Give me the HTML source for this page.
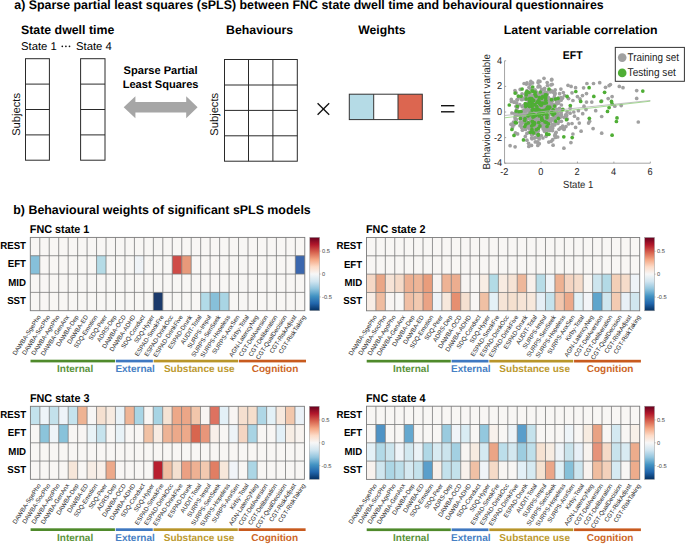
<!DOCTYPE html>
<html><head><meta charset="utf-8"><style>
html,body{margin:0;padding:0;background:#fff;}
body{width:685px;height:545px;overflow:hidden;font-family:"Liberation Sans", sans-serif;}
svg{display:block;text-rendering:geometricPrecision;}
</style></head><body>
<svg width="685" height="545" viewBox="0 0 685 545" font-family='"Liberation Sans", sans-serif'><text x="14.30" y="9.20" font-size="12.4" font-weight="bold" text-anchor="start" fill="#000" >a) Sparse partial least squares (sPLS) between FNC state dwell time and behavioural questionnaires</text>
<text x="21.00" y="33.60" font-size="12.35" font-weight="bold" text-anchor="start" fill="#000" >State dwell time</text>
<text x="21.00" y="49.90" font-size="11.3" font-weight="normal" text-anchor="start" fill="#000" >State 1</text>
<text x="76.00" y="49.90" font-size="11.3" font-weight="normal" text-anchor="start" fill="#000" >State 4</text>
<circle cx="62.3" cy="46.3" r="0.85" fill="#111"/>
<circle cx="65.9" cy="46.3" r="0.85" fill="#111"/>
<circle cx="69.5" cy="46.3" r="0.85" fill="#111"/>
<text x="160.60" y="73.90" font-size="11.1" font-weight="bold" text-anchor="middle" fill="#000" >Sparse Partial</text>
<text x="160.60" y="87.80" font-size="11.1" font-weight="bold" text-anchor="middle" fill="#000" >Least Squares</text>
<text x="259.60" y="33.80" font-size="12.3" font-weight="bold" text-anchor="middle" fill="#000" >Behaviours</text>
<text x="381.90" y="34.10" font-size="12.2" font-weight="bold" text-anchor="middle" fill="#000" >Weights</text>
<text x="580.70" y="34.40" font-size="12.3" font-weight="bold" text-anchor="middle" fill="#000" >Latent variable correlation</text>
<rect x="25.5" y="58.7" width="23.90" height="101.50" fill="none" stroke="#2a2a2a" stroke-width="1"/>
<line x1="25.5" y1="84.1" x2="49.4" y2="84.1" stroke="#2a2a2a" stroke-width="1"/>
<line x1="25.5" y1="109.5" x2="49.4" y2="109.5" stroke="#2a2a2a" stroke-width="1"/>
<line x1="25.5" y1="134.9" x2="49.4" y2="134.9" stroke="#2a2a2a" stroke-width="1"/>
<rect x="80.6" y="58.7" width="24.40" height="101.50" fill="none" stroke="#2a2a2a" stroke-width="1"/>
<line x1="80.6" y1="84.1" x2="105.0" y2="84.1" stroke="#2a2a2a" stroke-width="1"/>
<line x1="80.6" y1="109.5" x2="105.0" y2="109.5" stroke="#2a2a2a" stroke-width="1"/>
<line x1="80.6" y1="134.9" x2="105.0" y2="134.9" stroke="#2a2a2a" stroke-width="1"/>
<rect x="224.5" y="59.5" width="72.80" height="101.70" fill="none" stroke="#2a2a2a" stroke-width="1"/>
<line x1="248.5" y1="59.5" x2="248.5" y2="161.2" stroke="#2a2a2a" stroke-width="1"/>
<line x1="272.9" y1="59.5" x2="272.9" y2="161.2" stroke="#2a2a2a" stroke-width="1"/>
<line x1="224.5" y1="85.0" x2="297.3" y2="85.0" stroke="#2a2a2a" stroke-width="1"/>
<line x1="224.5" y1="110.4" x2="297.3" y2="110.4" stroke="#2a2a2a" stroke-width="1"/>
<line x1="224.5" y1="135.8" x2="297.3" y2="135.8" stroke="#2a2a2a" stroke-width="1"/>
<text transform="translate(20.1,114.4) rotate(-90)" x="0" y="0" font-size="11.2" text-anchor="middle" fill="#111">Subjects</text>
<text transform="translate(217.6,114.3) rotate(-90)" x="0" y="0" font-size="11.2" text-anchor="middle" fill="#111">Subjects</text>
<polygon points="123.7,107.2 135.4,96.2 135.4,102 186.2,102 186.2,96.2 197.6,107.2 186.2,118.2 186.2,112.6 135.4,112.6 135.4,118.2" fill="#a6a6a6"/>
<g stroke="#111" stroke-width="1.3"><line x1="317.6" y1="103.2" x2="329.2" y2="114.8"/><line x1="329.2" y1="103.2" x2="317.6" y2="114.8"/></g>
<g stroke="#111" stroke-width="1.4"><line x1="441" y1="105.7" x2="454.4" y2="105.7"/><line x1="441" y1="111.8" x2="454.4" y2="111.8"/></g>
<rect x="349.3" y="94.2" width="24.4" height="25.4" fill="#b5dbe6"/>
<rect x="373.7" y="94.2" width="24.3" height="25.4" fill="#ffffff"/>
<rect x="398" y="94.2" width="24.3" height="25.4" fill="#dc6650"/>
<rect x="349.3" y="94.2" width="73" height="25.4" fill="none" stroke="#333" stroke-width="1"/>
<line x1="373.7" y1="94.2" x2="373.7" y2="119.6" stroke="#333" stroke-width="1"/>
<line x1="398" y1="94.2" x2="398" y2="119.6" stroke="#333" stroke-width="1"/>
<line x1="504.56" y1="163.20" x2="650.32" y2="163.20" stroke="#9a9a9a" stroke-width="0.9"/>
<line x1="504.56" y1="163.20" x2="504.56" y2="60.80" stroke="#9a9a9a" stroke-width="0.9"/>
<line x1="504.56" y1="163.20" x2="504.56" y2="161.60" stroke="#9a9a9a" stroke-width="0.9"/>
<text transform="translate(504.26,175.4) scale(0.93,1)" font-size="9.9" text-anchor="middle" fill="#262626">-2</text>
<line x1="541.00" y1="163.20" x2="541.00" y2="161.60" stroke="#9a9a9a" stroke-width="0.9"/>
<text transform="translate(540.70,175.4) scale(0.93,1)" font-size="9.9" text-anchor="middle" fill="#262626">0</text>
<line x1="577.44" y1="163.20" x2="577.44" y2="161.60" stroke="#9a9a9a" stroke-width="0.9"/>
<text transform="translate(577.14,175.4) scale(0.93,1)" font-size="9.9" text-anchor="middle" fill="#262626">2</text>
<line x1="613.88" y1="163.20" x2="613.88" y2="161.60" stroke="#9a9a9a" stroke-width="0.9"/>
<text transform="translate(613.58,175.4) scale(0.93,1)" font-size="9.9" text-anchor="middle" fill="#262626">4</text>
<line x1="650.32" y1="163.20" x2="650.32" y2="161.60" stroke="#9a9a9a" stroke-width="0.9"/>
<text transform="translate(650.02,175.4) scale(0.93,1)" font-size="9.9" text-anchor="middle" fill="#262626">6</text>
<line x1="504.56" y1="163.20" x2="506.16" y2="163.20" stroke="#9a9a9a" stroke-width="0.9"/>
<text transform="translate(502.2,166.20) scale(0.93,1)" font-size="9.9" text-anchor="end" fill="#262626">-4</text>
<line x1="504.56" y1="137.60" x2="506.16" y2="137.60" stroke="#9a9a9a" stroke-width="0.9"/>
<text transform="translate(502.2,140.60) scale(0.93,1)" font-size="9.9" text-anchor="end" fill="#262626">-2</text>
<line x1="504.56" y1="112.00" x2="506.16" y2="112.00" stroke="#9a9a9a" stroke-width="0.9"/>
<text transform="translate(502.2,115.00) scale(0.93,1)" font-size="9.9" text-anchor="end" fill="#262626">0</text>
<line x1="504.56" y1="86.40" x2="506.16" y2="86.40" stroke="#9a9a9a" stroke-width="0.9"/>
<text transform="translate(502.2,89.40) scale(0.93,1)" font-size="9.9" text-anchor="end" fill="#262626">2</text>
<line x1="504.56" y1="60.80" x2="506.16" y2="60.80" stroke="#9a9a9a" stroke-width="0.9"/>
<text transform="translate(502.2,63.80) scale(0.93,1)" font-size="9.9" text-anchor="end" fill="#262626">4</text>
<text transform="translate(578.2,187.9) scale(0.93,1)" font-size="10.3" text-anchor="middle" fill="#262626">State 1</text>
<text transform="translate(489.9,111.8) rotate(-90) scale(0.95,1)" x="0" y="0" font-size="10.3" text-anchor="middle" fill="#262626">Behavioural latent variable</text>
<text transform="translate(572.7,58.6) scale(0.92,1)" font-size="11.4" font-weight="bold" text-anchor="middle" fill="#000">EFT</text>
<g fill="#a0a0a0"><circle cx="522.2" cy="106.7" r="1.85"/><circle cx="554.6" cy="119.2" r="1.85"/><circle cx="520.7" cy="112.9" r="1.85"/><circle cx="547.1" cy="96.5" r="1.85"/><circle cx="522.4" cy="130.2" r="1.85"/><circle cx="550.4" cy="105.3" r="1.85"/><circle cx="562.4" cy="98.2" r="1.85"/><circle cx="538.6" cy="115.9" r="1.85"/><circle cx="528.6" cy="128.0" r="1.85"/><circle cx="541.5" cy="110.0" r="1.85"/><circle cx="535.1" cy="112.9" r="1.85"/><circle cx="544.1" cy="102.3" r="1.85"/><circle cx="556.1" cy="109.0" r="1.85"/><circle cx="514.0" cy="102.1" r="1.85"/><circle cx="519.4" cy="114.4" r="1.85"/><circle cx="518.6" cy="112.0" r="1.85"/><circle cx="528.7" cy="109.0" r="1.85"/><circle cx="552.4" cy="130.6" r="1.85"/><circle cx="535.9" cy="102.7" r="1.85"/><circle cx="538.7" cy="106.8" r="1.85"/><circle cx="541.6" cy="126.2" r="1.85"/><circle cx="548.3" cy="123.4" r="1.85"/><circle cx="567.4" cy="119.1" r="1.85"/><circle cx="550.1" cy="112.0" r="1.85"/><circle cx="554.0" cy="120.5" r="1.85"/><circle cx="554.6" cy="113.7" r="1.85"/><circle cx="558.5" cy="103.2" r="1.85"/><circle cx="542.1" cy="123.0" r="1.85"/><circle cx="551.3" cy="105.4" r="1.85"/><circle cx="564.0" cy="117.3" r="1.85"/><circle cx="548.2" cy="104.8" r="1.85"/><circle cx="544.2" cy="109.1" r="1.85"/><circle cx="542.7" cy="120.4" r="1.85"/><circle cx="525.3" cy="117.6" r="1.85"/><circle cx="548.7" cy="90.7" r="1.85"/><circle cx="554.3" cy="97.2" r="1.85"/><circle cx="551.4" cy="102.2" r="1.85"/><circle cx="542.8" cy="101.1" r="1.85"/><circle cx="565.9" cy="116.6" r="1.85"/><circle cx="530.0" cy="84.4" r="1.85"/><circle cx="543.7" cy="98.3" r="1.85"/><circle cx="552.8" cy="128.0" r="1.85"/><circle cx="542.7" cy="101.4" r="1.85"/><circle cx="541.9" cy="124.4" r="1.85"/><circle cx="538.5" cy="106.7" r="1.85"/><circle cx="556.4" cy="102.0" r="1.85"/><circle cx="541.0" cy="92.9" r="1.85"/><circle cx="529.0" cy="100.8" r="1.85"/><circle cx="556.3" cy="116.1" r="1.85"/><circle cx="514.0" cy="124.8" r="1.85"/><circle cx="543.5" cy="104.6" r="1.85"/><circle cx="562.7" cy="126.1" r="1.85"/><circle cx="540.1" cy="102.9" r="1.85"/><circle cx="537.8" cy="145.4" r="1.85"/><circle cx="551.8" cy="79.4" r="1.85"/><circle cx="554.7" cy="124.9" r="1.85"/><circle cx="534.1" cy="108.9" r="1.85"/><circle cx="541.7" cy="90.1" r="1.85"/><circle cx="538.9" cy="85.8" r="1.85"/><circle cx="530.1" cy="118.7" r="1.85"/><circle cx="550.6" cy="91.9" r="1.85"/><circle cx="549.6" cy="107.8" r="1.85"/><circle cx="513.5" cy="122.0" r="1.85"/><circle cx="531.2" cy="119.5" r="1.85"/><circle cx="548.6" cy="116.7" r="1.85"/><circle cx="551.6" cy="110.8" r="1.85"/><circle cx="535.2" cy="110.3" r="1.85"/><circle cx="546.3" cy="99.9" r="1.85"/><circle cx="533.1" cy="115.3" r="1.85"/><circle cx="520.2" cy="89.4" r="1.85"/><circle cx="561.3" cy="114.5" r="1.85"/><circle cx="533.1" cy="129.4" r="1.85"/><circle cx="542.6" cy="109.1" r="1.85"/><circle cx="528.8" cy="146.4" r="1.85"/><circle cx="560.6" cy="109.3" r="1.85"/><circle cx="516.6" cy="109.5" r="1.85"/><circle cx="556.4" cy="103.9" r="1.85"/><circle cx="537.5" cy="142.1" r="1.85"/><circle cx="538.2" cy="133.9" r="1.85"/><circle cx="548.8" cy="142.1" r="1.85"/><circle cx="526.9" cy="94.8" r="1.85"/><circle cx="564.0" cy="128.6" r="1.85"/><circle cx="517.7" cy="99.6" r="1.85"/><circle cx="552.5" cy="125.9" r="1.85"/><circle cx="530.0" cy="121.8" r="1.85"/><circle cx="522.8" cy="121.6" r="1.85"/><circle cx="558.3" cy="102.3" r="1.85"/><circle cx="570.1" cy="113.2" r="1.85"/><circle cx="538.1" cy="125.8" r="1.85"/><circle cx="538.3" cy="130.5" r="1.85"/><circle cx="514.2" cy="102.2" r="1.85"/><circle cx="561.1" cy="100.2" r="1.85"/><circle cx="559.5" cy="108.4" r="1.85"/><circle cx="529.6" cy="110.8" r="1.85"/><circle cx="534.6" cy="127.6" r="1.85"/><circle cx="515.4" cy="132.9" r="1.85"/><circle cx="540.0" cy="109.9" r="1.85"/><circle cx="533.2" cy="91.9" r="1.85"/><circle cx="542.7" cy="103.8" r="1.85"/><circle cx="557.9" cy="123.5" r="1.85"/><circle cx="511.4" cy="101.4" r="1.85"/><circle cx="530.1" cy="93.5" r="1.85"/><circle cx="545.0" cy="97.8" r="1.85"/><circle cx="551.2" cy="141.3" r="1.85"/><circle cx="550.6" cy="121.5" r="1.85"/><circle cx="529.1" cy="118.1" r="1.85"/><circle cx="551.3" cy="99.5" r="1.85"/><circle cx="554.8" cy="135.4" r="1.85"/><circle cx="531.5" cy="145.4" r="1.85"/><circle cx="538.6" cy="103.6" r="1.85"/><circle cx="529.0" cy="108.6" r="1.85"/><circle cx="543.5" cy="97.8" r="1.85"/><circle cx="528.1" cy="123.7" r="1.85"/><circle cx="529.0" cy="87.3" r="1.85"/><circle cx="556.0" cy="113.7" r="1.85"/><circle cx="543.4" cy="110.4" r="1.85"/><circle cx="543.0" cy="114.9" r="1.85"/><circle cx="535.2" cy="129.7" r="1.85"/><circle cx="530.7" cy="88.8" r="1.85"/><circle cx="547.9" cy="111.1" r="1.85"/><circle cx="537.0" cy="111.1" r="1.85"/><circle cx="545.2" cy="121.1" r="1.85"/><circle cx="543.0" cy="108.6" r="1.85"/><circle cx="529.2" cy="123.1" r="1.85"/><circle cx="525.5" cy="127.0" r="1.85"/><circle cx="553.1" cy="145.2" r="1.85"/><circle cx="536.2" cy="120.6" r="1.85"/><circle cx="531.1" cy="110.6" r="1.85"/><circle cx="556.5" cy="110.9" r="1.85"/><circle cx="538.0" cy="120.6" r="1.85"/><circle cx="538.2" cy="99.2" r="1.85"/><circle cx="534.3" cy="128.1" r="1.85"/><circle cx="521.7" cy="127.6" r="1.85"/><circle cx="519.8" cy="96.5" r="1.85"/><circle cx="545.3" cy="115.3" r="1.85"/><circle cx="561.4" cy="121.3" r="1.85"/><circle cx="551.1" cy="100.7" r="1.85"/><circle cx="517.6" cy="133.9" r="1.85"/><circle cx="526.6" cy="99.2" r="1.85"/><circle cx="559.0" cy="129.3" r="1.85"/><circle cx="555.4" cy="117.4" r="1.85"/><circle cx="534.4" cy="119.8" r="1.85"/><circle cx="535.4" cy="137.6" r="1.85"/><circle cx="525.5" cy="129.4" r="1.85"/><circle cx="547.2" cy="82.6" r="1.85"/><circle cx="515.0" cy="117.7" r="1.85"/><circle cx="526.4" cy="84.1" r="1.85"/><circle cx="548.4" cy="122.3" r="1.85"/><circle cx="553.7" cy="104.5" r="1.85"/><circle cx="516.4" cy="119.5" r="1.85"/><circle cx="536.6" cy="111.7" r="1.85"/><circle cx="542.0" cy="116.8" r="1.85"/><circle cx="542.9" cy="120.3" r="1.85"/><circle cx="527.0" cy="90.7" r="1.85"/><circle cx="545.3" cy="105.8" r="1.85"/><circle cx="516.8" cy="114.3" r="1.85"/><circle cx="552.0" cy="130.2" r="1.85"/><circle cx="556.1" cy="117.5" r="1.85"/><circle cx="546.0" cy="113.9" r="1.85"/><circle cx="543.3" cy="95.1" r="1.85"/><circle cx="534.2" cy="90.0" r="1.85"/><circle cx="528.7" cy="125.1" r="1.85"/><circle cx="550.5" cy="127.0" r="1.85"/><circle cx="534.7" cy="99.2" r="1.85"/><circle cx="557.7" cy="137.0" r="1.85"/><circle cx="547.5" cy="85.5" r="1.85"/><circle cx="557.5" cy="115.4" r="1.85"/><circle cx="531.3" cy="116.2" r="1.85"/><circle cx="523.3" cy="115.7" r="1.85"/><circle cx="537.4" cy="114.1" r="1.85"/><circle cx="557.3" cy="115.2" r="1.85"/><circle cx="518.8" cy="97.2" r="1.85"/><circle cx="524.5" cy="118.3" r="1.85"/><circle cx="538.1" cy="116.8" r="1.85"/><circle cx="525.5" cy="115.5" r="1.85"/><circle cx="538.1" cy="96.2" r="1.85"/><circle cx="550.9" cy="101.3" r="1.85"/><circle cx="552.7" cy="139.7" r="1.85"/><circle cx="527.5" cy="110.2" r="1.85"/><circle cx="547.4" cy="93.8" r="1.85"/><circle cx="546.9" cy="115.4" r="1.85"/><circle cx="540.7" cy="115.0" r="1.85"/><circle cx="543.7" cy="102.5" r="1.85"/><circle cx="535.1" cy="123.5" r="1.85"/><circle cx="527.6" cy="96.6" r="1.85"/><circle cx="558.8" cy="98.0" r="1.85"/><circle cx="552.6" cy="100.3" r="1.85"/><circle cx="540.1" cy="102.7" r="1.85"/><circle cx="524.8" cy="114.9" r="1.85"/><circle cx="529.4" cy="101.8" r="1.85"/><circle cx="531.6" cy="113.5" r="1.85"/><circle cx="545.9" cy="92.9" r="1.85"/><circle cx="528.5" cy="125.2" r="1.85"/><circle cx="552.0" cy="127.6" r="1.85"/><circle cx="546.7" cy="120.0" r="1.85"/><circle cx="538.5" cy="137.6" r="1.85"/><circle cx="550.5" cy="119.0" r="1.85"/><circle cx="527.0" cy="82.8" r="1.85"/><circle cx="546.0" cy="116.9" r="1.85"/><circle cx="541.7" cy="89.4" r="1.85"/><circle cx="539.7" cy="105.7" r="1.85"/><circle cx="547.6" cy="124.8" r="1.85"/><circle cx="542.0" cy="119.1" r="1.85"/><circle cx="521.9" cy="99.7" r="1.85"/><circle cx="549.8" cy="110.9" r="1.85"/><circle cx="526.9" cy="140.2" r="1.85"/><circle cx="547.2" cy="113.4" r="1.85"/><circle cx="515.5" cy="112.8" r="1.85"/><circle cx="517.9" cy="112.4" r="1.85"/><circle cx="542.2" cy="107.0" r="1.85"/><circle cx="543.3" cy="109.6" r="1.85"/><circle cx="523.5" cy="117.4" r="1.85"/><circle cx="532.6" cy="115.3" r="1.85"/><circle cx="544.0" cy="103.3" r="1.85"/><circle cx="563.9" cy="148.2" r="1.85"/><circle cx="545.9" cy="114.8" r="1.85"/><circle cx="516.0" cy="106.3" r="1.85"/><circle cx="532.5" cy="98.0" r="1.85"/><circle cx="524.7" cy="113.4" r="1.85"/><circle cx="538.2" cy="113.4" r="1.85"/><circle cx="531.6" cy="137.9" r="1.85"/><circle cx="546.8" cy="97.9" r="1.85"/><circle cx="539.1" cy="126.3" r="1.85"/><circle cx="543.0" cy="104.0" r="1.85"/><circle cx="537.5" cy="112.2" r="1.85"/><circle cx="560.6" cy="127.8" r="1.85"/><circle cx="532.0" cy="138.8" r="1.85"/><circle cx="529.9" cy="122.4" r="1.85"/><circle cx="526.1" cy="121.8" r="1.85"/><circle cx="566.3" cy="114.8" r="1.85"/><circle cx="538.4" cy="81.0" r="1.85"/><circle cx="539.2" cy="136.4" r="1.85"/><circle cx="546.0" cy="125.2" r="1.85"/><circle cx="564.0" cy="129.5" r="1.85"/><circle cx="531.6" cy="134.6" r="1.85"/><circle cx="541.5" cy="126.3" r="1.85"/><circle cx="539.1" cy="117.3" r="1.85"/><circle cx="531.2" cy="98.7" r="1.85"/><circle cx="553.7" cy="111.1" r="1.85"/><circle cx="527.0" cy="127.1" r="1.85"/><circle cx="544.0" cy="78.3" r="1.85"/><circle cx="533.4" cy="123.0" r="1.85"/><circle cx="529.9" cy="127.4" r="1.85"/><circle cx="525.9" cy="114.9" r="1.85"/><circle cx="561.0" cy="112.0" r="1.85"/><circle cx="532.6" cy="134.7" r="1.85"/><circle cx="543.2" cy="112.4" r="1.85"/><circle cx="522.2" cy="127.3" r="1.85"/><circle cx="539.5" cy="97.7" r="1.85"/><circle cx="549.2" cy="109.1" r="1.85"/><circle cx="535.4" cy="107.5" r="1.85"/><circle cx="539.9" cy="81.4" r="1.85"/><circle cx="523.6" cy="117.2" r="1.85"/><circle cx="558.6" cy="115.7" r="1.85"/><circle cx="560.9" cy="112.6" r="1.85"/><circle cx="542.2" cy="117.2" r="1.85"/><circle cx="520.0" cy="125.7" r="1.85"/><circle cx="548.9" cy="98.6" r="1.85"/><circle cx="548.4" cy="97.6" r="1.85"/><circle cx="536.2" cy="115.1" r="1.85"/><circle cx="554.4" cy="117.0" r="1.85"/><circle cx="520.7" cy="115.2" r="1.85"/><circle cx="532.1" cy="103.4" r="1.85"/><circle cx="529.6" cy="126.9" r="1.85"/><circle cx="535.2" cy="90.1" r="1.85"/><circle cx="539.4" cy="109.7" r="1.85"/><circle cx="540.2" cy="107.8" r="1.85"/><circle cx="553.6" cy="92.3" r="1.85"/><circle cx="516.1" cy="92.8" r="1.85"/><circle cx="540.0" cy="116.5" r="1.85"/><circle cx="568.4" cy="98.4" r="1.85"/><circle cx="525.1" cy="105.1" r="1.85"/><circle cx="550.8" cy="113.8" r="1.85"/><circle cx="537.3" cy="127.6" r="1.85"/><circle cx="566.7" cy="115.4" r="1.85"/><circle cx="534.4" cy="116.2" r="1.85"/><circle cx="528.7" cy="122.9" r="1.85"/><circle cx="541.5" cy="107.6" r="1.85"/><circle cx="532.7" cy="113.3" r="1.85"/><circle cx="519.8" cy="104.7" r="1.85"/><circle cx="529.2" cy="109.0" r="1.85"/><circle cx="526.9" cy="119.3" r="1.85"/><circle cx="543.2" cy="129.1" r="1.85"/><circle cx="539.0" cy="122.3" r="1.85"/><circle cx="563.3" cy="92.5" r="1.85"/><circle cx="544.5" cy="131.3" r="1.85"/><circle cx="532.7" cy="103.3" r="1.85"/><circle cx="532.6" cy="128.7" r="1.85"/><circle cx="522.8" cy="122.9" r="1.85"/><circle cx="540.3" cy="121.1" r="1.85"/><circle cx="565.9" cy="126.6" r="1.85"/><circle cx="545.1" cy="110.8" r="1.85"/><circle cx="538.1" cy="97.3" r="1.85"/><circle cx="535.2" cy="116.6" r="1.85"/><circle cx="534.6" cy="113.4" r="1.85"/><circle cx="558.8" cy="101.1" r="1.85"/><circle cx="520.5" cy="118.2" r="1.85"/><circle cx="528.5" cy="100.5" r="1.85"/><circle cx="543.4" cy="99.5" r="1.85"/><circle cx="539.2" cy="138.9" r="1.85"/><circle cx="546.7" cy="108.8" r="1.85"/><circle cx="547.5" cy="130.3" r="1.85"/><circle cx="541.3" cy="121.7" r="1.85"/><circle cx="530.1" cy="107.0" r="1.85"/><circle cx="545.2" cy="124.6" r="1.85"/><circle cx="515.1" cy="146.8" r="1.85"/><circle cx="531.7" cy="96.2" r="1.85"/><circle cx="539.3" cy="143.7" r="1.85"/><circle cx="527.5" cy="106.1" r="1.85"/><circle cx="564.5" cy="95.6" r="1.85"/><circle cx="545.4" cy="109.2" r="1.85"/><circle cx="524.6" cy="118.4" r="1.85"/><circle cx="535.2" cy="122.9" r="1.85"/><circle cx="541.0" cy="117.5" r="1.85"/><circle cx="545.0" cy="91.8" r="1.85"/><circle cx="550.9" cy="106.1" r="1.85"/><circle cx="536.6" cy="133.4" r="1.85"/><circle cx="538.4" cy="104.3" r="1.85"/><circle cx="525.4" cy="94.3" r="1.85"/><circle cx="535.2" cy="106.8" r="1.85"/><circle cx="535.3" cy="129.7" r="1.85"/><circle cx="553.5" cy="119.8" r="1.85"/><circle cx="544.2" cy="123.3" r="1.85"/><circle cx="534.0" cy="99.0" r="1.85"/><circle cx="568.4" cy="123.9" r="1.85"/><circle cx="540.2" cy="98.7" r="1.85"/><circle cx="530.9" cy="102.0" r="1.85"/><circle cx="528.6" cy="103.5" r="1.85"/><circle cx="546.5" cy="94.9" r="1.85"/><circle cx="545.4" cy="128.8" r="1.85"/><circle cx="549.8" cy="127.5" r="1.85"/><circle cx="551.0" cy="90.7" r="1.85"/><circle cx="548.8" cy="119.8" r="1.85"/><circle cx="557.5" cy="109.6" r="1.85"/><circle cx="521.9" cy="117.0" r="1.85"/><circle cx="560.8" cy="116.3" r="1.85"/><circle cx="541.9" cy="116.8" r="1.85"/><circle cx="515.5" cy="119.2" r="1.85"/><circle cx="545.3" cy="109.1" r="1.85"/><circle cx="537.6" cy="142.1" r="1.85"/><circle cx="557.9" cy="101.9" r="1.85"/><circle cx="555.0" cy="93.7" r="1.85"/><circle cx="533.6" cy="120.5" r="1.85"/><circle cx="544.7" cy="88.4" r="1.85"/><circle cx="515.5" cy="115.2" r="1.85"/><circle cx="529.7" cy="104.1" r="1.85"/><circle cx="561.4" cy="116.2" r="1.85"/><circle cx="522.0" cy="111.3" r="1.85"/><circle cx="535.9" cy="133.7" r="1.85"/><circle cx="553.0" cy="119.4" r="1.85"/><circle cx="550.0" cy="130.5" r="1.85"/><circle cx="556.1" cy="132.3" r="1.85"/><circle cx="555.4" cy="137.5" r="1.85"/><circle cx="560.2" cy="117.3" r="1.85"/><circle cx="517.4" cy="115.3" r="1.85"/><circle cx="545.0" cy="125.9" r="1.85"/><circle cx="532.9" cy="108.2" r="1.85"/><circle cx="533.8" cy="106.0" r="1.85"/><circle cx="544.4" cy="97.8" r="1.85"/><circle cx="551.8" cy="107.6" r="1.85"/><circle cx="555.9" cy="98.6" r="1.85"/><circle cx="541.6" cy="120.7" r="1.85"/><circle cx="555.0" cy="106.0" r="1.85"/><circle cx="512.5" cy="127.5" r="1.85"/><circle cx="546.9" cy="110.5" r="1.85"/><circle cx="544.2" cy="103.0" r="1.85"/><circle cx="542.2" cy="89.7" r="1.85"/><circle cx="531.5" cy="117.6" r="1.85"/><circle cx="544.8" cy="101.5" r="1.85"/><circle cx="551.6" cy="91.1" r="1.85"/><circle cx="533.1" cy="95.6" r="1.85"/><circle cx="546.9" cy="126.7" r="1.85"/><circle cx="538.1" cy="82.6" r="1.85"/><circle cx="551.5" cy="118.6" r="1.85"/><circle cx="529.8" cy="110.9" r="1.85"/><circle cx="544.7" cy="125.2" r="1.85"/><circle cx="522.8" cy="114.9" r="1.85"/><circle cx="534.2" cy="120.7" r="1.85"/><circle cx="556.5" cy="110.9" r="1.85"/><circle cx="522.1" cy="93.8" r="1.85"/><circle cx="535.5" cy="130.7" r="1.85"/><circle cx="544.8" cy="105.1" r="1.85"/><circle cx="535.2" cy="102.2" r="1.85"/><circle cx="552.1" cy="124.4" r="1.85"/><circle cx="510.1" cy="145.7" r="1.85"/><circle cx="538.2" cy="94.7" r="1.85"/><circle cx="554.7" cy="92.4" r="1.85"/><circle cx="567.1" cy="111.8" r="1.85"/><circle cx="555.5" cy="133.5" r="1.85"/><circle cx="550.1" cy="106.5" r="1.85"/><circle cx="538.7" cy="118.2" r="1.85"/><circle cx="523.8" cy="110.0" r="1.85"/><circle cx="558.7" cy="117.2" r="1.85"/><circle cx="547.8" cy="121.4" r="1.85"/><circle cx="543.8" cy="126.2" r="1.85"/><circle cx="545.6" cy="115.1" r="1.85"/><circle cx="544.7" cy="120.5" r="1.85"/><circle cx="522.9" cy="116.6" r="1.85"/><circle cx="555.2" cy="89.8" r="1.85"/><circle cx="535.4" cy="100.7" r="1.85"/><circle cx="551.1" cy="106.5" r="1.85"/><circle cx="517.5" cy="107.4" r="1.85"/><circle cx="526.0" cy="95.4" r="1.85"/><circle cx="551.6" cy="103.3" r="1.85"/><circle cx="550.3" cy="130.0" r="1.85"/><circle cx="554.2" cy="110.9" r="1.85"/><circle cx="537.4" cy="122.0" r="1.85"/><circle cx="525.2" cy="118.1" r="1.85"/><circle cx="543.1" cy="121.1" r="1.85"/><circle cx="531.1" cy="119.8" r="1.85"/><circle cx="527.2" cy="99.7" r="1.85"/><circle cx="536.1" cy="99.8" r="1.85"/><circle cx="523.3" cy="98.9" r="1.85"/><circle cx="539.7" cy="102.6" r="1.85"/><circle cx="538.6" cy="124.5" r="1.85"/><circle cx="557.7" cy="118.1" r="1.85"/><circle cx="537.9" cy="124.5" r="1.85"/><circle cx="543.1" cy="117.5" r="1.85"/><circle cx="544.2" cy="107.1" r="1.85"/><circle cx="530.0" cy="131.9" r="1.85"/><circle cx="546.4" cy="99.1" r="1.85"/><circle cx="550.2" cy="128.1" r="1.85"/><circle cx="548.9" cy="106.6" r="1.85"/><circle cx="544.2" cy="106.0" r="1.85"/><circle cx="535.4" cy="109.0" r="1.85"/><circle cx="553.6" cy="119.1" r="1.85"/><circle cx="519.1" cy="113.5" r="1.85"/><circle cx="542.9" cy="138.0" r="1.85"/><circle cx="530.2" cy="103.7" r="1.85"/><circle cx="537.9" cy="110.7" r="1.85"/><circle cx="521.7" cy="99.2" r="1.85"/><circle cx="565.7" cy="114.8" r="1.85"/><circle cx="529.4" cy="128.3" r="1.85"/><circle cx="553.1" cy="110.5" r="1.85"/><circle cx="528.5" cy="94.9" r="1.85"/><circle cx="551.2" cy="103.5" r="1.85"/><circle cx="514.4" cy="113.5" r="1.85"/><circle cx="549.2" cy="129.2" r="1.85"/><circle cx="553.6" cy="91.9" r="1.85"/><circle cx="555.2" cy="122.2" r="1.85"/><circle cx="529.8" cy="98.7" r="1.85"/><circle cx="554.6" cy="94.7" r="1.85"/><circle cx="557.6" cy="113.4" r="1.85"/><circle cx="534.1" cy="138.1" r="1.85"/><circle cx="551.5" cy="79.9" r="1.85"/><circle cx="533.3" cy="118.7" r="1.85"/><circle cx="549.5" cy="106.7" r="1.85"/><circle cx="520.1" cy="122.1" r="1.85"/><circle cx="524.1" cy="83.5" r="1.85"/><circle cx="529.6" cy="100.0" r="1.85"/><circle cx="568.0" cy="85.3" r="1.85"/><circle cx="560.9" cy="89.1" r="1.85"/><circle cx="522.1" cy="116.9" r="1.85"/><circle cx="529.5" cy="116.1" r="1.85"/><circle cx="548.2" cy="129.4" r="1.85"/><circle cx="559.6" cy="93.7" r="1.85"/><circle cx="532.6" cy="82.9" r="1.85"/><circle cx="541.2" cy="93.6" r="1.85"/><circle cx="544.6" cy="119.9" r="1.85"/><circle cx="534.5" cy="113.7" r="1.85"/><circle cx="549.1" cy="110.2" r="1.85"/><circle cx="533.3" cy="122.1" r="1.85"/><circle cx="528.8" cy="132.3" r="1.85"/><circle cx="525.7" cy="99.2" r="1.85"/><circle cx="541.0" cy="114.4" r="1.85"/><circle cx="545.2" cy="97.0" r="1.85"/><circle cx="549.1" cy="101.1" r="1.85"/><circle cx="531.9" cy="115.7" r="1.85"/><circle cx="528.8" cy="113.4" r="1.85"/><circle cx="528.2" cy="117.2" r="1.85"/><circle cx="537.5" cy="115.0" r="1.85"/><circle cx="536.2" cy="118.9" r="1.85"/><circle cx="559.2" cy="116.8" r="1.85"/><circle cx="525.3" cy="109.3" r="1.85"/><circle cx="524.2" cy="127.1" r="1.85"/><circle cx="541.3" cy="135.5" r="1.85"/><circle cx="555.2" cy="135.5" r="1.85"/><circle cx="527.0" cy="103.9" r="1.85"/><circle cx="511.1" cy="124.3" r="1.85"/><circle cx="522.5" cy="114.8" r="1.85"/><circle cx="511.3" cy="99.4" r="1.85"/><circle cx="538.0" cy="107.7" r="1.85"/><circle cx="535.3" cy="141.9" r="1.85"/><circle cx="537.9" cy="130.9" r="1.85"/><circle cx="540.2" cy="124.0" r="1.85"/><circle cx="535.5" cy="115.0" r="1.85"/><circle cx="551.3" cy="101.2" r="1.85"/><circle cx="525.4" cy="112.2" r="1.85"/><circle cx="561.4" cy="105.0" r="1.85"/><circle cx="529.5" cy="113.7" r="1.85"/><circle cx="535.0" cy="98.7" r="1.85"/><circle cx="540.6" cy="106.7" r="1.85"/><circle cx="525.3" cy="136.4" r="1.85"/><circle cx="516.9" cy="99.9" r="1.85"/><circle cx="544.3" cy="89.0" r="1.85"/><circle cx="511.3" cy="124.4" r="1.85"/><circle cx="561.1" cy="97.5" r="1.85"/><circle cx="553.0" cy="99.7" r="1.85"/><circle cx="540.6" cy="112.1" r="1.85"/><circle cx="540.6" cy="100.1" r="1.85"/><circle cx="537.7" cy="107.5" r="1.85"/><circle cx="561.3" cy="127.8" r="1.85"/><circle cx="529.2" cy="104.0" r="1.85"/><circle cx="536.3" cy="114.2" r="1.85"/><circle cx="534.0" cy="96.5" r="1.85"/><circle cx="530.3" cy="110.4" r="1.85"/><circle cx="530.8" cy="81.4" r="1.85"/><circle cx="547.8" cy="117.6" r="1.85"/><circle cx="547.2" cy="123.2" r="1.85"/><circle cx="531.3" cy="110.5" r="1.85"/><circle cx="546.2" cy="93.0" r="1.85"/><circle cx="550.9" cy="84.9" r="1.85"/><circle cx="546.7" cy="109.9" r="1.85"/><circle cx="538.2" cy="124.1" r="1.85"/><circle cx="563.9" cy="128.7" r="1.85"/><circle cx="538.3" cy="119.4" r="1.85"/><circle cx="528.6" cy="143.3" r="1.85"/><circle cx="534.5" cy="110.1" r="1.85"/><circle cx="542.2" cy="100.1" r="1.85"/><circle cx="537.7" cy="121.0" r="1.85"/><circle cx="544.6" cy="102.6" r="1.85"/><circle cx="526.9" cy="133.4" r="1.85"/><circle cx="525.1" cy="97.1" r="1.85"/><circle cx="554.6" cy="124.5" r="1.85"/><circle cx="541.7" cy="100.2" r="1.85"/><circle cx="559.5" cy="121.3" r="1.85"/><circle cx="536.6" cy="92.2" r="1.85"/><circle cx="523.5" cy="105.7" r="1.85"/><circle cx="535.7" cy="112.8" r="1.85"/><circle cx="530.4" cy="118.8" r="1.85"/><circle cx="539.9" cy="86.6" r="1.85"/><circle cx="550.3" cy="106.0" r="1.85"/><circle cx="540.5" cy="122.6" r="1.85"/><circle cx="536.7" cy="94.5" r="1.85"/><circle cx="552.2" cy="84.3" r="1.85"/><circle cx="543.9" cy="112.3" r="1.85"/><circle cx="516.5" cy="106.4" r="1.85"/><circle cx="515.0" cy="90.5" r="1.85"/><circle cx="530.9" cy="112.0" r="1.85"/><circle cx="520.4" cy="119.0" r="1.85"/><circle cx="526.5" cy="96.1" r="1.85"/><circle cx="543.7" cy="128.6" r="1.85"/><circle cx="511.9" cy="113.0" r="1.85"/><circle cx="533.0" cy="127.6" r="1.85"/><circle cx="548.7" cy="114.6" r="1.85"/><circle cx="541.7" cy="120.3" r="1.85"/><circle cx="531.8" cy="118.5" r="1.85"/><circle cx="516.7" cy="103.1" r="1.85"/><circle cx="546.0" cy="136.3" r="1.85"/><circle cx="541.6" cy="95.7" r="1.85"/><circle cx="543.5" cy="93.8" r="1.85"/><circle cx="536.2" cy="112.0" r="1.85"/><circle cx="521.1" cy="124.7" r="1.85"/><circle cx="513.5" cy="124.6" r="1.85"/><circle cx="543.6" cy="104.7" r="1.85"/><circle cx="557.0" cy="110.2" r="1.85"/><circle cx="525.7" cy="105.9" r="1.85"/><circle cx="538.0" cy="86.9" r="1.85"/><circle cx="568.6" cy="98.5" r="1.85"/><circle cx="523.5" cy="119.4" r="1.85"/><circle cx="586.9" cy="83.5" r="1.85"/><circle cx="593.5" cy="83.5" r="1.85"/><circle cx="599.7" cy="82.7" r="1.85"/><circle cx="583.6" cy="87.8" r="1.85"/><circle cx="605.5" cy="87.3" r="1.85"/><circle cx="609.1" cy="85.6" r="1.85"/><circle cx="610.4" cy="84.5" r="1.85"/><circle cx="586.5" cy="93.6" r="1.85"/><circle cx="582.5" cy="95.6" r="1.85"/><circle cx="577.4" cy="96.6" r="1.85"/><circle cx="580.0" cy="98.9" r="1.85"/><circle cx="586.5" cy="102.1" r="1.85"/><circle cx="591.8" cy="102.1" r="1.85"/><circle cx="601.7" cy="101.0" r="1.85"/><circle cx="608.2" cy="98.6" r="1.85"/><circle cx="614.8" cy="106.2" r="1.85"/><circle cx="584.0" cy="106.2" r="1.85"/><circle cx="586.0" cy="109.6" r="1.85"/><circle cx="582.7" cy="113.7" r="1.85"/><circle cx="574.5" cy="116.2" r="1.85"/><circle cx="577.8" cy="118.7" r="1.85"/><circle cx="579.3" cy="123.1" r="1.85"/><circle cx="588.6" cy="123.1" r="1.85"/><circle cx="589.6" cy="121.2" r="1.85"/><circle cx="601.7" cy="116.5" r="1.85"/><circle cx="593.1" cy="128.6" r="1.85"/><circle cx="601.7" cy="133.2" r="1.85"/><circle cx="572.9" cy="134.0" r="1.85"/><circle cx="570.9" cy="142.6" r="1.85"/><circle cx="636.7" cy="90.6" r="1.85"/><circle cx="636.7" cy="98.4" r="1.85"/><circle cx="638.3" cy="122.0" r="1.85"/><circle cx="572.0" cy="92.8" r="1.85"/><circle cx="575.6" cy="87.7" r="1.85"/><circle cx="570.2" cy="108.2" r="1.85"/><circle cx="573.8" cy="112.0" r="1.85"/><circle cx="572.0" cy="123.5" r="1.85"/><circle cx="575.6" cy="127.4" r="1.85"/><circle cx="571.1" cy="86.4" r="1.85"/><circle cx="581.1" cy="131.2" r="1.85"/><circle cx="572.9" cy="100.5" r="1.85"/><circle cx="578.4" cy="110.7" r="1.85"/><circle cx="619.3" cy="86.4" r="1.85"/><circle cx="623.0" cy="87.7" r="1.85"/><circle cx="595.7" cy="110.7" r="1.85"/><circle cx="621.2" cy="105.6" r="1.85"/><circle cx="612.1" cy="96.6" r="1.85"/></g>
<g fill="#4fae35"><circle cx="538.7" cy="122.5" r="1.85"/><circle cx="542.7" cy="103.2" r="1.85"/><circle cx="546.5" cy="109.5" r="1.85"/><circle cx="525.8" cy="124.3" r="1.85"/><circle cx="535.0" cy="94.3" r="1.85"/><circle cx="555.4" cy="99.1" r="1.85"/><circle cx="540.8" cy="103.3" r="1.85"/><circle cx="546.3" cy="94.8" r="1.85"/><circle cx="546.7" cy="133.9" r="1.85"/><circle cx="547.9" cy="107.3" r="1.85"/><circle cx="530.9" cy="105.4" r="1.85"/><circle cx="539.9" cy="113.4" r="1.85"/><circle cx="516.1" cy="111.1" r="1.85"/><circle cx="543.1" cy="113.3" r="1.85"/><circle cx="517.3" cy="106.3" r="1.85"/><circle cx="545.1" cy="110.1" r="1.85"/><circle cx="541.6" cy="117.5" r="1.85"/><circle cx="528.5" cy="105.4" r="1.85"/><circle cx="532.2" cy="110.1" r="1.85"/><circle cx="538.1" cy="135.1" r="1.85"/><circle cx="537.6" cy="102.2" r="1.85"/><circle cx="528.0" cy="115.9" r="1.85"/><circle cx="509.3" cy="105.0" r="1.85"/><circle cx="529.3" cy="103.2" r="1.85"/><circle cx="552.9" cy="114.9" r="1.85"/><circle cx="548.3" cy="109.2" r="1.85"/><circle cx="534.0" cy="116.5" r="1.85"/><circle cx="526.2" cy="94.9" r="1.85"/><circle cx="547.0" cy="126.5" r="1.85"/><circle cx="546.6" cy="122.7" r="1.85"/><circle cx="518.3" cy="96.1" r="1.85"/><circle cx="521.1" cy="96.3" r="1.85"/><circle cx="538.8" cy="100.2" r="1.85"/><circle cx="542.6" cy="96.7" r="1.85"/><circle cx="540.6" cy="104.6" r="1.85"/><circle cx="539.4" cy="97.5" r="1.85"/><circle cx="531.7" cy="98.6" r="1.85"/><circle cx="554.6" cy="113.5" r="1.85"/><circle cx="541.7" cy="119.7" r="1.85"/><circle cx="533.0" cy="109.0" r="1.85"/><circle cx="532.3" cy="124.9" r="1.85"/><circle cx="536.1" cy="110.0" r="1.85"/><circle cx="540.3" cy="102.8" r="1.85"/><circle cx="515.1" cy="93.1" r="1.85"/><circle cx="534.4" cy="123.3" r="1.85"/><circle cx="532.0" cy="106.5" r="1.85"/><circle cx="546.9" cy="117.7" r="1.85"/><circle cx="538.3" cy="134.7" r="1.85"/><circle cx="538.5" cy="114.2" r="1.85"/><circle cx="531.3" cy="100.4" r="1.85"/><circle cx="558.0" cy="98.4" r="1.85"/><circle cx="527.0" cy="91.5" r="1.85"/><circle cx="532.4" cy="113.2" r="1.85"/><circle cx="529.5" cy="106.3" r="1.85"/><circle cx="543.1" cy="110.6" r="1.85"/><circle cx="533.9" cy="114.6" r="1.85"/><circle cx="531.6" cy="99.2" r="1.85"/><circle cx="530.2" cy="114.7" r="1.85"/><circle cx="533.9" cy="123.0" r="1.85"/><circle cx="533.7" cy="132.9" r="1.85"/><circle cx="541.3" cy="105.2" r="1.85"/><circle cx="532.8" cy="91.2" r="1.85"/><circle cx="526.6" cy="105.0" r="1.85"/><circle cx="542.2" cy="120.0" r="1.85"/><circle cx="533.6" cy="100.4" r="1.85"/><circle cx="537.2" cy="108.7" r="1.85"/><circle cx="553.2" cy="109.6" r="1.85"/><circle cx="516.4" cy="122.8" r="1.85"/><circle cx="546.4" cy="114.4" r="1.85"/><circle cx="523.5" cy="139.9" r="1.85"/><circle cx="540.3" cy="92.0" r="1.85"/><circle cx="542.4" cy="120.1" r="1.85"/><circle cx="532.9" cy="117.1" r="1.85"/><circle cx="525.7" cy="106.6" r="1.85"/><circle cx="547.4" cy="107.6" r="1.85"/><circle cx="529.8" cy="98.3" r="1.85"/><circle cx="535.1" cy="104.7" r="1.85"/><circle cx="525.3" cy="103.6" r="1.85"/><circle cx="545.3" cy="94.9" r="1.85"/><circle cx="536.8" cy="106.5" r="1.85"/><circle cx="529.6" cy="100.5" r="1.85"/><circle cx="545.7" cy="97.8" r="1.85"/><circle cx="531.9" cy="129.4" r="1.85"/><circle cx="535.6" cy="115.5" r="1.85"/><circle cx="527.6" cy="104.3" r="1.85"/><circle cx="547.7" cy="107.2" r="1.85"/><circle cx="549.7" cy="107.2" r="1.85"/><circle cx="524.8" cy="120.6" r="1.85"/><circle cx="532.2" cy="103.2" r="1.85"/><circle cx="547.4" cy="110.8" r="1.85"/><circle cx="548.5" cy="123.9" r="1.85"/><circle cx="535.1" cy="92.2" r="1.85"/><circle cx="541.7" cy="98.3" r="1.85"/><circle cx="514.0" cy="135.4" r="1.85"/><circle cx="526.2" cy="98.9" r="1.85"/><circle cx="555.8" cy="121.1" r="1.85"/><circle cx="524.8" cy="126.5" r="1.85"/><circle cx="525.9" cy="105.0" r="1.85"/><circle cx="532.7" cy="87.0" r="1.85"/><circle cx="545.0" cy="121.9" r="1.85"/><circle cx="539.3" cy="114.7" r="1.85"/><circle cx="545.8" cy="100.2" r="1.85"/><circle cx="532.4" cy="100.4" r="1.85"/><circle cx="543.2" cy="113.8" r="1.85"/><circle cx="539.5" cy="103.3" r="1.85"/><circle cx="532.7" cy="121.8" r="1.85"/><circle cx="551.5" cy="112.5" r="1.85"/><circle cx="529.5" cy="106.3" r="1.85"/><circle cx="519.0" cy="111.8" r="1.85"/><circle cx="520.4" cy="118.4" r="1.85"/><circle cx="515.4" cy="122.4" r="1.85"/><circle cx="547.1" cy="115.1" r="1.85"/><circle cx="522.1" cy="89.0" r="1.85"/><circle cx="529.0" cy="92.4" r="1.85"/><circle cx="530.3" cy="132.5" r="1.85"/><circle cx="558.3" cy="118.4" r="1.85"/><circle cx="545.5" cy="96.4" r="1.85"/><circle cx="521.0" cy="111.6" r="1.85"/><circle cx="529.7" cy="104.4" r="1.85"/><circle cx="536.3" cy="129.7" r="1.85"/><circle cx="537.2" cy="102.2" r="1.85"/><circle cx="533.0" cy="104.9" r="1.85"/><circle cx="530.2" cy="113.3" r="1.85"/><circle cx="540.6" cy="110.6" r="1.85"/><circle cx="551.5" cy="99.7" r="1.85"/><circle cx="546.5" cy="102.8" r="1.85"/><circle cx="538.4" cy="128.3" r="1.85"/><circle cx="549.0" cy="89.0" r="1.85"/><circle cx="539.2" cy="116.0" r="1.85"/><circle cx="536.1" cy="96.2" r="1.85"/><circle cx="539.9" cy="125.9" r="1.85"/><circle cx="534.5" cy="122.9" r="1.85"/><circle cx="534.2" cy="124.7" r="1.85"/><circle cx="526.2" cy="92.5" r="1.85"/><circle cx="548.9" cy="134.3" r="1.85"/><circle cx="525.0" cy="118.6" r="1.85"/><circle cx="532.0" cy="131.2" r="1.85"/><circle cx="547.0" cy="134.3" r="1.85"/><circle cx="544.7" cy="103.1" r="1.85"/><circle cx="532.2" cy="121.4" r="1.85"/><circle cx="537.2" cy="110.5" r="1.85"/><circle cx="511.9" cy="129.5" r="1.85"/><circle cx="542.8" cy="114.0" r="1.85"/><circle cx="531.7" cy="126.0" r="1.85"/><circle cx="528.3" cy="122.9" r="1.85"/><circle cx="554.6" cy="106.1" r="1.85"/><circle cx="539.0" cy="109.9" r="1.85"/><circle cx="532.1" cy="90.8" r="1.85"/><circle cx="542.5" cy="112.9" r="1.85"/><circle cx="535.1" cy="109.8" r="1.85"/><circle cx="589.1" cy="87.7" r="1.85"/><circle cx="604.6" cy="92.3" r="1.85"/><circle cx="593.8" cy="96.4" r="1.85"/><circle cx="580.7" cy="101.4" r="1.85"/><circle cx="601.1" cy="101.4" r="1.85"/><circle cx="611.5" cy="101.4" r="1.85"/><circle cx="612.1" cy="103.8" r="1.85"/><circle cx="609.1" cy="107.6" r="1.85"/><circle cx="607.5" cy="111.4" r="1.85"/><circle cx="589.3" cy="118.3" r="1.85"/><circle cx="617.0" cy="117.9" r="1.85"/><circle cx="616.4" cy="121.5" r="1.85"/><circle cx="612.1" cy="135.2" r="1.85"/><circle cx="642.8" cy="91.1" r="1.85"/><circle cx="575.8" cy="91.5" r="1.85"/><circle cx="567.1" cy="96.4" r="1.85"/><circle cx="572.2" cy="137.6" r="1.85"/><circle cx="563.8" cy="136.8" r="1.85"/><circle cx="570.3" cy="105.5" r="1.85"/><circle cx="566.5" cy="119.7" r="1.85"/><circle cx="562.9" cy="109.4" r="1.85"/></g>
<line x1="504.6" y1="115.5" x2="650.3" y2="100.5" stroke="#b0b0b0" stroke-width="0.8"/>
<line x1="504.6" y1="117.8" x2="650.3" y2="101.2" stroke="#8fd07a" stroke-width="0.8"/>
<rect x="615.3" y="47.4" width="69.1" height="33.9" fill="#fff" stroke="#333" stroke-width="1"/>
<circle cx="622.2" cy="57.6" r="4.3" fill="#a0a0a0"/>
<circle cx="622.2" cy="72.9" r="4.3" fill="#4fae35"/>
<text transform="translate(627.6,60.6) scale(0.885,1)" font-size="11.2" fill="#1a1a1a">Training set</text>
<text transform="translate(627.6,76.0) scale(0.885,1)" font-size="11.4" fill="#1a1a1a">Testing set</text>
<text x="13.30" y="214.40" font-size="12.4" font-weight="bold" text-anchor="start" fill="#000" >b) Behavioural weights of significant sPLS models</text>
<text transform="translate(29.80,233.00) scale(0.95,1)" font-size="11.4" font-weight="bold" fill="#000">FNC state 1</text>
<rect x="30.30" y="237.40" width="9.52" height="18.38" fill="#f8f6f4"/>
<rect x="39.77" y="237.40" width="9.52" height="18.38" fill="#f8f6f4"/>
<rect x="49.23" y="237.40" width="9.52" height="18.38" fill="#f8f6f4"/>
<rect x="58.70" y="237.40" width="9.52" height="18.38" fill="#f8f6f4"/>
<rect x="68.16" y="237.40" width="9.52" height="18.38" fill="#f8f6f4"/>
<rect x="77.63" y="237.40" width="9.52" height="18.38" fill="#f8f6f4"/>
<rect x="87.09" y="237.40" width="9.52" height="18.38" fill="#f8f6f4"/>
<rect x="96.56" y="237.40" width="9.52" height="18.38" fill="#f8f6f4"/>
<rect x="106.02" y="237.40" width="9.52" height="18.38" fill="#f8f6f4"/>
<rect x="115.49" y="237.40" width="9.52" height="18.38" fill="#f8f6f4"/>
<rect x="124.96" y="237.40" width="9.52" height="18.38" fill="#f8f6f4"/>
<rect x="134.42" y="237.40" width="9.52" height="18.38" fill="#f8f6f4"/>
<rect x="143.89" y="237.40" width="9.52" height="18.38" fill="#f8f6f4"/>
<rect x="153.35" y="237.40" width="9.52" height="18.38" fill="#f8f6f4"/>
<rect x="162.82" y="237.40" width="9.52" height="18.38" fill="#f8f6f4"/>
<rect x="172.28" y="237.40" width="9.52" height="18.38" fill="#f8f6f4"/>
<rect x="181.75" y="237.40" width="9.52" height="18.38" fill="#f8f6f4"/>
<rect x="191.21" y="237.40" width="9.52" height="18.38" fill="#f8f6f4"/>
<rect x="200.68" y="237.40" width="9.52" height="18.38" fill="#f8f6f4"/>
<rect x="210.14" y="237.40" width="9.52" height="18.38" fill="#f8f6f4"/>
<rect x="219.61" y="237.40" width="9.52" height="18.38" fill="#f8f6f4"/>
<rect x="229.08" y="237.40" width="9.52" height="18.38" fill="#f8f6f4"/>
<rect x="238.54" y="237.40" width="9.52" height="18.38" fill="#f8f6f4"/>
<rect x="248.01" y="237.40" width="9.52" height="18.38" fill="#f8f6f4"/>
<rect x="257.47" y="237.40" width="9.52" height="18.38" fill="#f8f6f4"/>
<rect x="266.94" y="237.40" width="9.52" height="18.38" fill="#f8f6f4"/>
<rect x="276.40" y="237.40" width="9.52" height="18.38" fill="#f8f6f4"/>
<rect x="285.87" y="237.40" width="9.52" height="18.38" fill="#f8f6f4"/>
<rect x="295.33" y="237.40" width="9.52" height="18.38" fill="#f8f6f4"/>
<rect x="30.30" y="255.72" width="9.52" height="18.38" fill="#86c0da"/>
<rect x="39.77" y="255.72" width="9.52" height="18.38" fill="#f8f6f4"/>
<rect x="49.23" y="255.72" width="9.52" height="18.38" fill="#f8f6f4"/>
<rect x="58.70" y="255.72" width="9.52" height="18.38" fill="#f8f6f4"/>
<rect x="68.16" y="255.72" width="9.52" height="18.38" fill="#f8f6f4"/>
<rect x="77.63" y="255.72" width="9.52" height="18.38" fill="#f8f6f4"/>
<rect x="87.09" y="255.72" width="9.52" height="18.38" fill="#f8f6f4"/>
<rect x="96.56" y="255.72" width="9.52" height="18.38" fill="#b5dbe6"/>
<rect x="106.02" y="255.72" width="9.52" height="18.38" fill="#f8f6f4"/>
<rect x="115.49" y="255.72" width="9.52" height="18.38" fill="#f8f6f4"/>
<rect x="124.96" y="255.72" width="9.52" height="18.38" fill="#f8f6f4"/>
<rect x="134.42" y="255.72" width="9.52" height="18.38" fill="#eff3f7"/>
<rect x="143.89" y="255.72" width="9.52" height="18.38" fill="#f8f6f4"/>
<rect x="153.35" y="255.72" width="9.52" height="18.38" fill="#f8f6f4"/>
<rect x="162.82" y="255.72" width="9.52" height="18.38" fill="#f8f6f4"/>
<rect x="172.28" y="255.72" width="9.52" height="18.38" fill="#cf4b47"/>
<rect x="181.75" y="255.72" width="9.52" height="18.38" fill="#e8997a"/>
<rect x="191.21" y="255.72" width="9.52" height="18.38" fill="#f8f6f4"/>
<rect x="200.68" y="255.72" width="9.52" height="18.38" fill="#f8f6f4"/>
<rect x="210.14" y="255.72" width="9.52" height="18.38" fill="#f8f6f4"/>
<rect x="219.61" y="255.72" width="9.52" height="18.38" fill="#f8f6f4"/>
<rect x="229.08" y="255.72" width="9.52" height="18.38" fill="#f8f6f4"/>
<rect x="238.54" y="255.72" width="9.52" height="18.38" fill="#f8f6f4"/>
<rect x="248.01" y="255.72" width="9.52" height="18.38" fill="#f8f6f4"/>
<rect x="257.47" y="255.72" width="9.52" height="18.38" fill="#f8f6f4"/>
<rect x="266.94" y="255.72" width="9.52" height="18.38" fill="#f8f6f4"/>
<rect x="276.40" y="255.72" width="9.52" height="18.38" fill="#f8f6f4"/>
<rect x="285.87" y="255.72" width="9.52" height="18.38" fill="#f8f6f4"/>
<rect x="295.33" y="255.72" width="9.52" height="18.38" fill="#3b67ae"/>
<rect x="30.30" y="274.05" width="9.52" height="18.38" fill="#f8f6f4"/>
<rect x="39.77" y="274.05" width="9.52" height="18.38" fill="#f8f6f4"/>
<rect x="49.23" y="274.05" width="9.52" height="18.38" fill="#f8f6f4"/>
<rect x="58.70" y="274.05" width="9.52" height="18.38" fill="#f8f6f4"/>
<rect x="68.16" y="274.05" width="9.52" height="18.38" fill="#f8f6f4"/>
<rect x="77.63" y="274.05" width="9.52" height="18.38" fill="#f8f6f4"/>
<rect x="87.09" y="274.05" width="9.52" height="18.38" fill="#f8f6f4"/>
<rect x="96.56" y="274.05" width="9.52" height="18.38" fill="#f8f6f4"/>
<rect x="106.02" y="274.05" width="9.52" height="18.38" fill="#f8f6f4"/>
<rect x="115.49" y="274.05" width="9.52" height="18.38" fill="#f8f6f4"/>
<rect x="124.96" y="274.05" width="9.52" height="18.38" fill="#f8f6f4"/>
<rect x="134.42" y="274.05" width="9.52" height="18.38" fill="#f8f6f4"/>
<rect x="143.89" y="274.05" width="9.52" height="18.38" fill="#f8f6f4"/>
<rect x="153.35" y="274.05" width="9.52" height="18.38" fill="#f8f6f4"/>
<rect x="162.82" y="274.05" width="9.52" height="18.38" fill="#f8f6f4"/>
<rect x="172.28" y="274.05" width="9.52" height="18.38" fill="#f8f6f4"/>
<rect x="181.75" y="274.05" width="9.52" height="18.38" fill="#f8f6f4"/>
<rect x="191.21" y="274.05" width="9.52" height="18.38" fill="#f8f6f4"/>
<rect x="200.68" y="274.05" width="9.52" height="18.38" fill="#f8f6f4"/>
<rect x="210.14" y="274.05" width="9.52" height="18.38" fill="#f8f6f4"/>
<rect x="219.61" y="274.05" width="9.52" height="18.38" fill="#f8f6f4"/>
<rect x="229.08" y="274.05" width="9.52" height="18.38" fill="#f8f6f4"/>
<rect x="238.54" y="274.05" width="9.52" height="18.38" fill="#f8f6f4"/>
<rect x="248.01" y="274.05" width="9.52" height="18.38" fill="#f8f6f4"/>
<rect x="257.47" y="274.05" width="9.52" height="18.38" fill="#f8f6f4"/>
<rect x="266.94" y="274.05" width="9.52" height="18.38" fill="#f8f6f4"/>
<rect x="276.40" y="274.05" width="9.52" height="18.38" fill="#f8f6f4"/>
<rect x="285.87" y="274.05" width="9.52" height="18.38" fill="#f8f6f4"/>
<rect x="295.33" y="274.05" width="9.52" height="18.38" fill="#f8f6f4"/>
<rect x="30.30" y="292.38" width="9.52" height="18.38" fill="#f8f6f4"/>
<rect x="39.77" y="292.38" width="9.52" height="18.38" fill="#f8f6f4"/>
<rect x="49.23" y="292.38" width="9.52" height="18.38" fill="#f8f6f4"/>
<rect x="58.70" y="292.38" width="9.52" height="18.38" fill="#f8f6f4"/>
<rect x="68.16" y="292.38" width="9.52" height="18.38" fill="#f8f6f4"/>
<rect x="77.63" y="292.38" width="9.52" height="18.38" fill="#f8f6f4"/>
<rect x="87.09" y="292.38" width="9.52" height="18.38" fill="#f8f6f4"/>
<rect x="96.56" y="292.38" width="9.52" height="18.38" fill="#f8f6f4"/>
<rect x="106.02" y="292.38" width="9.52" height="18.38" fill="#f8f6f4"/>
<rect x="115.49" y="292.38" width="9.52" height="18.38" fill="#f8f6f4"/>
<rect x="124.96" y="292.38" width="9.52" height="18.38" fill="#f8f6f4"/>
<rect x="134.42" y="292.38" width="9.52" height="18.38" fill="#f8f6f4"/>
<rect x="143.89" y="292.38" width="9.52" height="18.38" fill="#f8f6f4"/>
<rect x="153.35" y="292.38" width="9.52" height="18.38" fill="#1c3a6b"/>
<rect x="162.82" y="292.38" width="9.52" height="18.38" fill="#f8f6f4"/>
<rect x="172.28" y="292.38" width="9.52" height="18.38" fill="#f8f6f4"/>
<rect x="181.75" y="292.38" width="9.52" height="18.38" fill="#f8f6f4"/>
<rect x="191.21" y="292.38" width="9.52" height="18.38" fill="#f8f6f4"/>
<rect x="200.68" y="292.38" width="9.52" height="18.38" fill="#b2dbe8"/>
<rect x="210.14" y="292.38" width="9.52" height="18.38" fill="#87c0d9"/>
<rect x="219.61" y="292.38" width="9.52" height="18.38" fill="#a9d5e4"/>
<rect x="229.08" y="292.38" width="9.52" height="18.38" fill="#f8f6f4"/>
<rect x="238.54" y="292.38" width="9.52" height="18.38" fill="#f8f6f4"/>
<rect x="248.01" y="292.38" width="9.52" height="18.38" fill="#f8f6f4"/>
<rect x="257.47" y="292.38" width="9.52" height="18.38" fill="#f8f6f4"/>
<rect x="266.94" y="292.38" width="9.52" height="18.38" fill="#f8f6f4"/>
<rect x="276.40" y="292.38" width="9.52" height="18.38" fill="#f8f6f4"/>
<rect x="285.87" y="292.38" width="9.52" height="18.38" fill="#f8f6f4"/>
<rect x="295.33" y="292.38" width="9.52" height="18.38" fill="#f8f6f4"/>
<line x1="39.77" y1="237.4" x2="39.77" y2="310.7" stroke="#7a7a7a" stroke-width="0.8"/>
<line x1="49.23" y1="237.4" x2="49.23" y2="310.7" stroke="#7a7a7a" stroke-width="0.8"/>
<line x1="58.70" y1="237.4" x2="58.70" y2="310.7" stroke="#7a7a7a" stroke-width="0.8"/>
<line x1="68.16" y1="237.4" x2="68.16" y2="310.7" stroke="#7a7a7a" stroke-width="0.8"/>
<line x1="77.63" y1="237.4" x2="77.63" y2="310.7" stroke="#7a7a7a" stroke-width="0.8"/>
<line x1="87.09" y1="237.4" x2="87.09" y2="310.7" stroke="#7a7a7a" stroke-width="0.8"/>
<line x1="96.56" y1="237.4" x2="96.56" y2="310.7" stroke="#7a7a7a" stroke-width="0.8"/>
<line x1="106.02" y1="237.4" x2="106.02" y2="310.7" stroke="#7a7a7a" stroke-width="0.8"/>
<line x1="115.49" y1="237.4" x2="115.49" y2="310.7" stroke="#7a7a7a" stroke-width="0.8"/>
<line x1="124.96" y1="237.4" x2="124.96" y2="310.7" stroke="#7a7a7a" stroke-width="0.8"/>
<line x1="134.42" y1="237.4" x2="134.42" y2="310.7" stroke="#7a7a7a" stroke-width="0.8"/>
<line x1="143.89" y1="237.4" x2="143.89" y2="310.7" stroke="#7a7a7a" stroke-width="0.8"/>
<line x1="153.35" y1="237.4" x2="153.35" y2="310.7" stroke="#7a7a7a" stroke-width="0.8"/>
<line x1="162.82" y1="237.4" x2="162.82" y2="310.7" stroke="#7a7a7a" stroke-width="0.8"/>
<line x1="172.28" y1="237.4" x2="172.28" y2="310.7" stroke="#7a7a7a" stroke-width="0.8"/>
<line x1="181.75" y1="237.4" x2="181.75" y2="310.7" stroke="#7a7a7a" stroke-width="0.8"/>
<line x1="191.21" y1="237.4" x2="191.21" y2="310.7" stroke="#7a7a7a" stroke-width="0.8"/>
<line x1="200.68" y1="237.4" x2="200.68" y2="310.7" stroke="#7a7a7a" stroke-width="0.8"/>
<line x1="210.14" y1="237.4" x2="210.14" y2="310.7" stroke="#7a7a7a" stroke-width="0.8"/>
<line x1="219.61" y1="237.4" x2="219.61" y2="310.7" stroke="#7a7a7a" stroke-width="0.8"/>
<line x1="229.08" y1="237.4" x2="229.08" y2="310.7" stroke="#7a7a7a" stroke-width="0.8"/>
<line x1="238.54" y1="237.4" x2="238.54" y2="310.7" stroke="#7a7a7a" stroke-width="0.8"/>
<line x1="248.01" y1="237.4" x2="248.01" y2="310.7" stroke="#7a7a7a" stroke-width="0.8"/>
<line x1="257.47" y1="237.4" x2="257.47" y2="310.7" stroke="#7a7a7a" stroke-width="0.8"/>
<line x1="266.94" y1="237.4" x2="266.94" y2="310.7" stroke="#7a7a7a" stroke-width="0.8"/>
<line x1="276.40" y1="237.4" x2="276.40" y2="310.7" stroke="#7a7a7a" stroke-width="0.8"/>
<line x1="285.87" y1="237.4" x2="285.87" y2="310.7" stroke="#7a7a7a" stroke-width="0.8"/>
<line x1="295.33" y1="237.4" x2="295.33" y2="310.7" stroke="#7a7a7a" stroke-width="0.8"/>
<line x1="30.3" y1="255.72" x2="304.8" y2="255.72" stroke="#7a7a7a" stroke-width="0.8"/>
<line x1="30.3" y1="274.05" x2="304.8" y2="274.05" stroke="#7a7a7a" stroke-width="0.8"/>
<line x1="30.3" y1="292.38" x2="304.8" y2="292.38" stroke="#7a7a7a" stroke-width="0.8"/>
<rect x="30.3" y="237.4" width="274.5" height="73.3" fill="none" stroke="#7a7a7a" stroke-width="0.9"/>
<text transform="translate(26.00,249.16) scale(0.95,1)" font-size="10.2" font-weight="bold" text-anchor="end" fill="#000">REST</text>
<text transform="translate(26.00,267.49) scale(0.95,1)" font-size="10.2" font-weight="bold" text-anchor="end" fill="#000">EFT</text>
<text transform="translate(26.00,285.81) scale(0.95,1)" font-size="10.2" font-weight="bold" text-anchor="end" fill="#000">MID</text>
<text transform="translate(26.00,304.14) scale(0.95,1)" font-size="10.2" font-weight="bold" text-anchor="end" fill="#000">SST</text>
<defs><linearGradient id="g1" x1="0" y1="0" x2="0" y2="1"><stop offset="0.00" stop-color="#67001f"/><stop offset="0.10" stop-color="#b2182b"/><stop offset="0.20" stop-color="#d6604d"/><stop offset="0.30" stop-color="#f4a582"/><stop offset="0.40" stop-color="#fddbc7"/><stop offset="0.50" stop-color="#f7f7f7"/><stop offset="0.60" stop-color="#d1e5f0"/><stop offset="0.70" stop-color="#92c5de"/><stop offset="0.80" stop-color="#4393c3"/><stop offset="0.90" stop-color="#2166ac"/><stop offset="1.00" stop-color="#053061"/></linearGradient></defs>
<rect x="309.80" y="237.4" width="9.8" height="73.3" fill="url(#g1)" stroke="#999" stroke-width="0.5"/>
<line x1="319.60" y1="251.14" x2="320.70" y2="251.14" stroke="#777" stroke-width="0.5"/>
<text x="322.00" y="253.14" font-size="5.7" font-weight="normal" text-anchor="start" fill="#444" >0.5</text>
<line x1="319.60" y1="274.05" x2="320.70" y2="274.05" stroke="#777" stroke-width="0.5"/>
<text x="322.00" y="276.05" font-size="5.7" font-weight="normal" text-anchor="start" fill="#444" >0</text>
<line x1="319.60" y1="296.96" x2="320.70" y2="296.96" stroke="#777" stroke-width="0.5"/>
<text x="322.00" y="298.96" font-size="5.7" font-weight="normal" text-anchor="start" fill="#444" >-0.5</text>
<text transform="translate(41.03,316.80) rotate(-57)" x="0" y="0" font-size="6.2" text-anchor="end" fill="#1a1a1a">DAWBA-SgePho</text>
<text transform="translate(50.50,316.80) rotate(-57)" x="0" y="0" font-size="6.2" text-anchor="end" fill="#1a1a1a">DAWBA-SocPho</text>
<text transform="translate(59.96,316.80) rotate(-57)" x="0" y="0" font-size="6.2" text-anchor="end" fill="#1a1a1a">DAWBA-AgoPho</text>
<text transform="translate(69.43,316.80) rotate(-57)" x="0" y="0" font-size="6.2" text-anchor="end" fill="#1a1a1a">DAWBA-GenAnx</text>
<text transform="translate(78.89,316.80) rotate(-57)" x="0" y="0" font-size="6.2" text-anchor="end" fill="#1a1a1a">DAWBA-Dep</text>
<text transform="translate(88.36,316.80) rotate(-57)" x="0" y="0" font-size="6.2" text-anchor="end" fill="#1a1a1a">DAWBA-ED</text>
<text transform="translate(97.83,316.80) rotate(-57)" x="0" y="0" font-size="6.2" text-anchor="end" fill="#1a1a1a">SDQ-Emotion</text>
<text transform="translate(107.29,316.80) rotate(-57)" x="0" y="0" font-size="6.2" text-anchor="end" fill="#1a1a1a">SDQ-Peer</text>
<text transform="translate(116.76,316.80) rotate(-57)" x="0" y="0" font-size="6.2" text-anchor="end" fill="#1a1a1a">ADRS-Dep</text>
<text transform="translate(126.22,316.80) rotate(-57)" x="0" y="0" font-size="6.2" text-anchor="end" fill="#1a1a1a">DAWBA-OCD</text>
<text transform="translate(135.69,316.80) rotate(-57)" x="0" y="0" font-size="6.2" text-anchor="end" fill="#1a1a1a">DAWBA-ADHD</text>
<text transform="translate(145.15,316.80) rotate(-57)" x="0" y="0" font-size="6.2" text-anchor="end" fill="#1a1a1a">SDQ-Conduct</text>
<text transform="translate(154.62,316.80) rotate(-57)" x="0" y="0" font-size="6.2" text-anchor="end" fill="#1a1a1a">SDQ-Hyper</text>
<text transform="translate(164.08,316.80) rotate(-57)" x="0" y="0" font-size="6.2" text-anchor="end" fill="#1a1a1a">ESPAD-SmokFre</text>
<text transform="translate(173.55,316.80) rotate(-57)" x="0" y="0" font-size="6.2" text-anchor="end" fill="#1a1a1a">ESPAD-DrinkOcc</text>
<text transform="translate(183.02,316.80) rotate(-57)" x="0" y="0" font-size="6.2" text-anchor="end" fill="#1a1a1a">ESPAD-DrinkFive</text>
<text transform="translate(192.48,316.80) rotate(-57)" x="0" y="0" font-size="6.2" text-anchor="end" fill="#1a1a1a">ESPAD-Drunk</text>
<text transform="translate(201.95,316.80) rotate(-57)" x="0" y="0" font-size="6.2" text-anchor="end" fill="#1a1a1a">AUDIT-Total</text>
<text transform="translate(211.41,316.80) rotate(-57)" x="0" y="0" font-size="6.2" text-anchor="end" fill="#1a1a1a">SURPS-Impul</text>
<text transform="translate(220.88,316.80) rotate(-57)" x="0" y="0" font-size="6.2" text-anchor="end" fill="#1a1a1a">SURPS-SenSeek</text>
<text transform="translate(230.34,316.80) rotate(-57)" x="0" y="0" font-size="6.2" text-anchor="end" fill="#1a1a1a">SURPS-Hopeless</text>
<text transform="translate(239.81,316.80) rotate(-57)" x="0" y="0" font-size="6.2" text-anchor="end" fill="#1a1a1a">SURPS-AnxSen</text>
<text transform="translate(249.27,316.80) rotate(-57)" x="0" y="0" font-size="6.2" text-anchor="end" fill="#1a1a1a">Kirby-Total</text>
<text transform="translate(258.74,316.80) rotate(-57)" x="0" y="0" font-size="6.2" text-anchor="end" fill="#1a1a1a">AGN-LatencyNeg</text>
<text transform="translate(268.21,316.80) rotate(-57)" x="0" y="0" font-size="6.2" text-anchor="end" fill="#1a1a1a">CGT-DelAversion</text>
<text transform="translate(277.67,316.80) rotate(-57)" x="0" y="0" font-size="6.2" text-anchor="end" fill="#1a1a1a">CGT-Deliberation</text>
<text transform="translate(287.14,316.80) rotate(-57)" x="0" y="0" font-size="6.2" text-anchor="end" fill="#1a1a1a">CGT-QualDecision</text>
<text transform="translate(296.60,316.80) rotate(-57)" x="0" y="0" font-size="6.2" text-anchor="end" fill="#1a1a1a">CGT-RiskAdjust</text>
<text transform="translate(306.07,316.80) rotate(-57)" x="0" y="0" font-size="6.2" text-anchor="end" fill="#1a1a1a">CGT-RiskTaking</text>
<rect x="30.50" y="359.70" width="84.49" height="2.7" fill="#4f8a2b"/>
<text x="75.14" y="372.30" font-size="10" font-weight="bold" text-anchor="middle" fill="#5a933a" >Internal</text>
<rect x="115.79" y="359.70" width="37.06" height="2.7" fill="#3f78c0"/>
<text x="135.12" y="372.30" font-size="10" font-weight="bold" text-anchor="middle" fill="#4680c4" >External</text>
<rect x="153.65" y="359.70" width="84.39" height="2.7" fill="#b8952a"/>
<text x="199.25" y="372.30" font-size="10" font-weight="bold" text-anchor="middle" fill="#bc9a30" >Substance use</text>
<rect x="238.84" y="359.70" width="67.16" height="2.7" fill="#c85a1e"/>
<text x="275.02" y="372.30" font-size="10" font-weight="bold" text-anchor="middle" fill="#cc6628" >Cognition</text>
<text transform="translate(366.00,233.10) scale(0.95,1)" font-size="11.4" font-weight="bold" fill="#000">FNC state 2</text>
<rect x="366.50" y="237.50" width="9.47" height="18.38" fill="#f8f6f4"/>
<rect x="375.92" y="237.50" width="9.47" height="18.38" fill="#f8f6f4"/>
<rect x="385.34" y="237.50" width="9.47" height="18.38" fill="#f8f6f4"/>
<rect x="394.76" y="237.50" width="9.47" height="18.38" fill="#f8f6f4"/>
<rect x="404.18" y="237.50" width="9.47" height="18.38" fill="#f8f6f4"/>
<rect x="413.60" y="237.50" width="9.47" height="18.38" fill="#f8f6f4"/>
<rect x="423.02" y="237.50" width="9.47" height="18.38" fill="#f8f6f4"/>
<rect x="432.44" y="237.50" width="9.47" height="18.38" fill="#f8f6f4"/>
<rect x="441.87" y="237.50" width="9.47" height="18.38" fill="#f8f6f4"/>
<rect x="451.29" y="237.50" width="9.47" height="18.38" fill="#f8f6f4"/>
<rect x="460.71" y="237.50" width="9.47" height="18.38" fill="#f8f6f4"/>
<rect x="470.13" y="237.50" width="9.47" height="18.38" fill="#f8f6f4"/>
<rect x="479.55" y="237.50" width="9.47" height="18.38" fill="#f8f6f4"/>
<rect x="488.97" y="237.50" width="9.47" height="18.38" fill="#f8f6f4"/>
<rect x="498.39" y="237.50" width="9.47" height="18.38" fill="#f8f6f4"/>
<rect x="507.81" y="237.50" width="9.47" height="18.38" fill="#f8f6f4"/>
<rect x="517.23" y="237.50" width="9.47" height="18.38" fill="#f8f6f4"/>
<rect x="526.65" y="237.50" width="9.47" height="18.38" fill="#f8f6f4"/>
<rect x="536.07" y="237.50" width="9.47" height="18.38" fill="#f8f6f4"/>
<rect x="545.49" y="237.50" width="9.47" height="18.38" fill="#f8f6f4"/>
<rect x="554.91" y="237.50" width="9.47" height="18.38" fill="#f8f6f4"/>
<rect x="564.33" y="237.50" width="9.47" height="18.38" fill="#f8f6f4"/>
<rect x="573.76" y="237.50" width="9.47" height="18.38" fill="#f8f6f4"/>
<rect x="583.18" y="237.50" width="9.47" height="18.38" fill="#f8f6f4"/>
<rect x="592.60" y="237.50" width="9.47" height="18.38" fill="#f8f6f4"/>
<rect x="602.02" y="237.50" width="9.47" height="18.38" fill="#f8f6f4"/>
<rect x="611.44" y="237.50" width="9.47" height="18.38" fill="#f8f6f4"/>
<rect x="620.86" y="237.50" width="9.47" height="18.38" fill="#f8f6f4"/>
<rect x="630.28" y="237.50" width="9.47" height="18.38" fill="#f8f6f4"/>
<rect x="366.50" y="255.82" width="9.47" height="18.38" fill="#f8f6f4"/>
<rect x="375.92" y="255.82" width="9.47" height="18.38" fill="#f8f6f4"/>
<rect x="385.34" y="255.82" width="9.47" height="18.38" fill="#f8f6f4"/>
<rect x="394.76" y="255.82" width="9.47" height="18.38" fill="#f8f6f4"/>
<rect x="404.18" y="255.82" width="9.47" height="18.38" fill="#f8f6f4"/>
<rect x="413.60" y="255.82" width="9.47" height="18.38" fill="#f8f6f4"/>
<rect x="423.02" y="255.82" width="9.47" height="18.38" fill="#f8f6f4"/>
<rect x="432.44" y="255.82" width="9.47" height="18.38" fill="#f8f6f4"/>
<rect x="441.87" y="255.82" width="9.47" height="18.38" fill="#f8f6f4"/>
<rect x="451.29" y="255.82" width="9.47" height="18.38" fill="#f8f6f4"/>
<rect x="460.71" y="255.82" width="9.47" height="18.38" fill="#f8f6f4"/>
<rect x="470.13" y="255.82" width="9.47" height="18.38" fill="#f8f6f4"/>
<rect x="479.55" y="255.82" width="9.47" height="18.38" fill="#f8f6f4"/>
<rect x="488.97" y="255.82" width="9.47" height="18.38" fill="#f8f6f4"/>
<rect x="498.39" y="255.82" width="9.47" height="18.38" fill="#f8f6f4"/>
<rect x="507.81" y="255.82" width="9.47" height="18.38" fill="#f8f6f4"/>
<rect x="517.23" y="255.82" width="9.47" height="18.38" fill="#f8f6f4"/>
<rect x="526.65" y="255.82" width="9.47" height="18.38" fill="#f8f6f4"/>
<rect x="536.07" y="255.82" width="9.47" height="18.38" fill="#f8f6f4"/>
<rect x="545.49" y="255.82" width="9.47" height="18.38" fill="#f8f6f4"/>
<rect x="554.91" y="255.82" width="9.47" height="18.38" fill="#f8f6f4"/>
<rect x="564.33" y="255.82" width="9.47" height="18.38" fill="#f8f6f4"/>
<rect x="573.76" y="255.82" width="9.47" height="18.38" fill="#f8f6f4"/>
<rect x="583.18" y="255.82" width="9.47" height="18.38" fill="#f8f6f4"/>
<rect x="592.60" y="255.82" width="9.47" height="18.38" fill="#f8f6f4"/>
<rect x="602.02" y="255.82" width="9.47" height="18.38" fill="#f8f6f4"/>
<rect x="611.44" y="255.82" width="9.47" height="18.38" fill="#f8f6f4"/>
<rect x="620.86" y="255.82" width="9.47" height="18.38" fill="#f8f6f4"/>
<rect x="630.28" y="255.82" width="9.47" height="18.38" fill="#f8f6f4"/>
<rect x="366.50" y="274.15" width="9.47" height="18.38" fill="#f5d8c6"/>
<rect x="375.92" y="274.15" width="9.47" height="18.38" fill="#eaa686"/>
<rect x="385.34" y="274.15" width="9.47" height="18.38" fill="#f6e3d6"/>
<rect x="394.76" y="274.15" width="9.47" height="18.38" fill="#f5dac8"/>
<rect x="404.18" y="274.15" width="9.47" height="18.38" fill="#edb092"/>
<rect x="413.60" y="274.15" width="9.47" height="18.38" fill="#eeb597"/>
<rect x="423.02" y="274.15" width="9.47" height="18.38" fill="#e99d7c"/>
<rect x="432.44" y="274.15" width="9.47" height="18.38" fill="#f7f3f1"/>
<rect x="441.87" y="274.15" width="9.47" height="18.38" fill="#eeb395"/>
<rect x="451.29" y="274.15" width="9.47" height="18.38" fill="#ecad8f"/>
<rect x="460.71" y="274.15" width="9.47" height="18.38" fill="#f7f4f2"/>
<rect x="470.13" y="274.15" width="9.47" height="18.38" fill="#f8f6f4"/>
<rect x="479.55" y="274.15" width="9.47" height="18.38" fill="#f8ede4"/>
<rect x="488.97" y="274.15" width="9.47" height="18.38" fill="#b3dbe6"/>
<rect x="498.39" y="274.15" width="9.47" height="18.38" fill="#f8ebe1"/>
<rect x="507.81" y="274.15" width="9.47" height="18.38" fill="#f6e3d5"/>
<rect x="517.23" y="274.15" width="9.47" height="18.38" fill="#eeb79a"/>
<rect x="526.65" y="274.15" width="9.47" height="18.38" fill="#f8f0eb"/>
<rect x="536.07" y="274.15" width="9.47" height="18.38" fill="#b8dce7"/>
<rect x="545.49" y="274.15" width="9.47" height="18.38" fill="#eef3f7"/>
<rect x="554.91" y="274.15" width="9.47" height="18.38" fill="#eeb192"/>
<rect x="564.33" y="274.15" width="9.47" height="18.38" fill="#f4d4c1"/>
<rect x="573.76" y="274.15" width="9.47" height="18.38" fill="#f5dccb"/>
<rect x="583.18" y="274.15" width="9.47" height="18.38" fill="#f8f5f2"/>
<rect x="592.60" y="274.15" width="9.47" height="18.38" fill="#cde5ee"/>
<rect x="602.02" y="274.15" width="9.47" height="18.38" fill="#b3dae6"/>
<rect x="611.44" y="274.15" width="9.47" height="18.38" fill="#f3cfb7"/>
<rect x="620.86" y="274.15" width="9.47" height="18.38" fill="#f5dcca"/>
<rect x="630.28" y="274.15" width="9.47" height="18.38" fill="#eef3f7"/>
<rect x="366.50" y="292.48" width="9.47" height="18.38" fill="#f8ede5"/>
<rect x="375.92" y="292.48" width="9.47" height="18.38" fill="#efbca0"/>
<rect x="385.34" y="292.48" width="9.47" height="18.38" fill="#f8f5f3"/>
<rect x="394.76" y="292.48" width="9.47" height="18.38" fill="#f8f7f6"/>
<rect x="404.18" y="292.48" width="9.47" height="18.38" fill="#f0bfa5"/>
<rect x="413.60" y="292.48" width="9.47" height="18.38" fill="#f2c9b0"/>
<rect x="423.02" y="292.48" width="9.47" height="18.38" fill="#eaa385"/>
<rect x="432.44" y="292.48" width="9.47" height="18.38" fill="#eef3f8"/>
<rect x="441.87" y="292.48" width="9.47" height="18.38" fill="#f7e8dc"/>
<rect x="451.29" y="292.48" width="9.47" height="18.38" fill="#e68f70"/>
<rect x="460.71" y="292.48" width="9.47" height="18.38" fill="#f5e0d0"/>
<rect x="470.13" y="292.48" width="9.47" height="18.38" fill="#f8f6f4"/>
<rect x="479.55" y="292.48" width="9.47" height="18.38" fill="#f0c0a4"/>
<rect x="488.97" y="292.48" width="9.47" height="18.38" fill="#e4f1f7"/>
<rect x="498.39" y="292.48" width="9.47" height="18.38" fill="#f6e4d6"/>
<rect x="507.81" y="292.48" width="9.47" height="18.38" fill="#f5e0cf"/>
<rect x="517.23" y="292.48" width="9.47" height="18.38" fill="#f6e4d6"/>
<rect x="526.65" y="292.48" width="9.47" height="18.38" fill="#f7e8dc"/>
<rect x="536.07" y="292.48" width="9.47" height="18.38" fill="#e6eff6"/>
<rect x="545.49" y="292.48" width="9.47" height="18.38" fill="#c5e2ec"/>
<rect x="554.91" y="292.48" width="9.47" height="18.38" fill="#f2c6ad"/>
<rect x="564.33" y="292.48" width="9.47" height="18.38" fill="#eca98a"/>
<rect x="573.76" y="292.48" width="9.47" height="18.38" fill="#e3f1f6"/>
<rect x="583.18" y="292.48" width="9.47" height="18.38" fill="#f3f5f8"/>
<rect x="592.60" y="292.48" width="9.47" height="18.38" fill="#5ea5cc"/>
<rect x="602.02" y="292.48" width="9.47" height="18.38" fill="#cfe6ee"/>
<rect x="611.44" y="292.48" width="9.47" height="18.38" fill="#f3cbb2"/>
<rect x="620.86" y="292.48" width="9.47" height="18.38" fill="#e8f0f6"/>
<rect x="630.28" y="292.48" width="9.47" height="18.38" fill="#d0e6ee"/>
<line x1="375.92" y1="237.5" x2="375.92" y2="310.8" stroke="#7a7a7a" stroke-width="0.8"/>
<line x1="385.34" y1="237.5" x2="385.34" y2="310.8" stroke="#7a7a7a" stroke-width="0.8"/>
<line x1="394.76" y1="237.5" x2="394.76" y2="310.8" stroke="#7a7a7a" stroke-width="0.8"/>
<line x1="404.18" y1="237.5" x2="404.18" y2="310.8" stroke="#7a7a7a" stroke-width="0.8"/>
<line x1="413.60" y1="237.5" x2="413.60" y2="310.8" stroke="#7a7a7a" stroke-width="0.8"/>
<line x1="423.02" y1="237.5" x2="423.02" y2="310.8" stroke="#7a7a7a" stroke-width="0.8"/>
<line x1="432.44" y1="237.5" x2="432.44" y2="310.8" stroke="#7a7a7a" stroke-width="0.8"/>
<line x1="441.87" y1="237.5" x2="441.87" y2="310.8" stroke="#7a7a7a" stroke-width="0.8"/>
<line x1="451.29" y1="237.5" x2="451.29" y2="310.8" stroke="#7a7a7a" stroke-width="0.8"/>
<line x1="460.71" y1="237.5" x2="460.71" y2="310.8" stroke="#7a7a7a" stroke-width="0.8"/>
<line x1="470.13" y1="237.5" x2="470.13" y2="310.8" stroke="#7a7a7a" stroke-width="0.8"/>
<line x1="479.55" y1="237.5" x2="479.55" y2="310.8" stroke="#7a7a7a" stroke-width="0.8"/>
<line x1="488.97" y1="237.5" x2="488.97" y2="310.8" stroke="#7a7a7a" stroke-width="0.8"/>
<line x1="498.39" y1="237.5" x2="498.39" y2="310.8" stroke="#7a7a7a" stroke-width="0.8"/>
<line x1="507.81" y1="237.5" x2="507.81" y2="310.8" stroke="#7a7a7a" stroke-width="0.8"/>
<line x1="517.23" y1="237.5" x2="517.23" y2="310.8" stroke="#7a7a7a" stroke-width="0.8"/>
<line x1="526.65" y1="237.5" x2="526.65" y2="310.8" stroke="#7a7a7a" stroke-width="0.8"/>
<line x1="536.07" y1="237.5" x2="536.07" y2="310.8" stroke="#7a7a7a" stroke-width="0.8"/>
<line x1="545.49" y1="237.5" x2="545.49" y2="310.8" stroke="#7a7a7a" stroke-width="0.8"/>
<line x1="554.91" y1="237.5" x2="554.91" y2="310.8" stroke="#7a7a7a" stroke-width="0.8"/>
<line x1="564.33" y1="237.5" x2="564.33" y2="310.8" stroke="#7a7a7a" stroke-width="0.8"/>
<line x1="573.76" y1="237.5" x2="573.76" y2="310.8" stroke="#7a7a7a" stroke-width="0.8"/>
<line x1="583.18" y1="237.5" x2="583.18" y2="310.8" stroke="#7a7a7a" stroke-width="0.8"/>
<line x1="592.60" y1="237.5" x2="592.60" y2="310.8" stroke="#7a7a7a" stroke-width="0.8"/>
<line x1="602.02" y1="237.5" x2="602.02" y2="310.8" stroke="#7a7a7a" stroke-width="0.8"/>
<line x1="611.44" y1="237.5" x2="611.44" y2="310.8" stroke="#7a7a7a" stroke-width="0.8"/>
<line x1="620.86" y1="237.5" x2="620.86" y2="310.8" stroke="#7a7a7a" stroke-width="0.8"/>
<line x1="630.28" y1="237.5" x2="630.28" y2="310.8" stroke="#7a7a7a" stroke-width="0.8"/>
<line x1="366.5" y1="255.82" x2="639.7" y2="255.82" stroke="#7a7a7a" stroke-width="0.8"/>
<line x1="366.5" y1="274.15" x2="639.7" y2="274.15" stroke="#7a7a7a" stroke-width="0.8"/>
<line x1="366.5" y1="292.48" x2="639.7" y2="292.48" stroke="#7a7a7a" stroke-width="0.8"/>
<rect x="366.5" y="237.5" width="273.2" height="73.3" fill="none" stroke="#7a7a7a" stroke-width="0.9"/>
<text transform="translate(362.20,249.26) scale(0.95,1)" font-size="10.2" font-weight="bold" text-anchor="end" fill="#000">REST</text>
<text transform="translate(362.20,267.59) scale(0.95,1)" font-size="10.2" font-weight="bold" text-anchor="end" fill="#000">EFT</text>
<text transform="translate(362.20,285.91) scale(0.95,1)" font-size="10.2" font-weight="bold" text-anchor="end" fill="#000">MID</text>
<text transform="translate(362.20,304.24) scale(0.95,1)" font-size="10.2" font-weight="bold" text-anchor="end" fill="#000">SST</text>
<defs><linearGradient id="g2" x1="0" y1="0" x2="0" y2="1"><stop offset="0.00" stop-color="#67001f"/><stop offset="0.10" stop-color="#b2182b"/><stop offset="0.20" stop-color="#d6604d"/><stop offset="0.30" stop-color="#f4a582"/><stop offset="0.40" stop-color="#fddbc7"/><stop offset="0.50" stop-color="#f7f7f7"/><stop offset="0.60" stop-color="#d1e5f0"/><stop offset="0.70" stop-color="#92c5de"/><stop offset="0.80" stop-color="#4393c3"/><stop offset="0.90" stop-color="#2166ac"/><stop offset="1.00" stop-color="#053061"/></linearGradient></defs>
<rect x="644.70" y="237.5" width="9.8" height="73.3" fill="url(#g2)" stroke="#999" stroke-width="0.5"/>
<line x1="654.50" y1="251.24" x2="655.60" y2="251.24" stroke="#777" stroke-width="0.5"/>
<text x="656.90" y="253.24" font-size="5.7" font-weight="normal" text-anchor="start" fill="#444" >0.5</text>
<line x1="654.50" y1="274.15" x2="655.60" y2="274.15" stroke="#777" stroke-width="0.5"/>
<text x="656.90" y="276.15" font-size="5.7" font-weight="normal" text-anchor="start" fill="#444" >0</text>
<line x1="654.50" y1="297.06" x2="655.60" y2="297.06" stroke="#777" stroke-width="0.5"/>
<text x="656.90" y="299.06" font-size="5.7" font-weight="normal" text-anchor="start" fill="#444" >-0.5</text>
<text transform="translate(377.21,316.90) rotate(-57)" x="0" y="0" font-size="6.2" text-anchor="end" fill="#1a1a1a">DAWBA-SgePho</text>
<text transform="translate(386.63,316.90) rotate(-57)" x="0" y="0" font-size="6.2" text-anchor="end" fill="#1a1a1a">DAWBA-SocPho</text>
<text transform="translate(396.05,316.90) rotate(-57)" x="0" y="0" font-size="6.2" text-anchor="end" fill="#1a1a1a">DAWBA-AgoPho</text>
<text transform="translate(405.47,316.90) rotate(-57)" x="0" y="0" font-size="6.2" text-anchor="end" fill="#1a1a1a">DAWBA-GenAnx</text>
<text transform="translate(414.89,316.90) rotate(-57)" x="0" y="0" font-size="6.2" text-anchor="end" fill="#1a1a1a">DAWBA-Dep</text>
<text transform="translate(424.31,316.90) rotate(-57)" x="0" y="0" font-size="6.2" text-anchor="end" fill="#1a1a1a">DAWBA-ED</text>
<text transform="translate(433.73,316.90) rotate(-57)" x="0" y="0" font-size="6.2" text-anchor="end" fill="#1a1a1a">SDQ-Emotion</text>
<text transform="translate(443.16,316.90) rotate(-57)" x="0" y="0" font-size="6.2" text-anchor="end" fill="#1a1a1a">SDQ-Peer</text>
<text transform="translate(452.58,316.90) rotate(-57)" x="0" y="0" font-size="6.2" text-anchor="end" fill="#1a1a1a">ADRS-Dep</text>
<text transform="translate(462.00,316.90) rotate(-57)" x="0" y="0" font-size="6.2" text-anchor="end" fill="#1a1a1a">DAWBA-OCD</text>
<text transform="translate(471.42,316.90) rotate(-57)" x="0" y="0" font-size="6.2" text-anchor="end" fill="#1a1a1a">DAWBA-ADHD</text>
<text transform="translate(480.84,316.90) rotate(-57)" x="0" y="0" font-size="6.2" text-anchor="end" fill="#1a1a1a">SDQ-Conduct</text>
<text transform="translate(490.26,316.90) rotate(-57)" x="0" y="0" font-size="6.2" text-anchor="end" fill="#1a1a1a">SDQ-Hyper</text>
<text transform="translate(499.68,316.90) rotate(-57)" x="0" y="0" font-size="6.2" text-anchor="end" fill="#1a1a1a">ESPAD-SmokFre</text>
<text transform="translate(509.10,316.90) rotate(-57)" x="0" y="0" font-size="6.2" text-anchor="end" fill="#1a1a1a">ESPAD-DrinkOcc</text>
<text transform="translate(518.52,316.90) rotate(-57)" x="0" y="0" font-size="6.2" text-anchor="end" fill="#1a1a1a">ESPAD-DrinkFive</text>
<text transform="translate(527.94,316.90) rotate(-57)" x="0" y="0" font-size="6.2" text-anchor="end" fill="#1a1a1a">ESPAD-Drunk</text>
<text transform="translate(537.36,316.90) rotate(-57)" x="0" y="0" font-size="6.2" text-anchor="end" fill="#1a1a1a">AUDIT-Total</text>
<text transform="translate(546.78,316.90) rotate(-57)" x="0" y="0" font-size="6.2" text-anchor="end" fill="#1a1a1a">SURPS-Impul</text>
<text transform="translate(556.20,316.90) rotate(-57)" x="0" y="0" font-size="6.2" text-anchor="end" fill="#1a1a1a">SURPS-SenSeek</text>
<text transform="translate(565.62,316.90) rotate(-57)" x="0" y="0" font-size="6.2" text-anchor="end" fill="#1a1a1a">SURPS-Hopeless</text>
<text transform="translate(575.04,316.90) rotate(-57)" x="0" y="0" font-size="6.2" text-anchor="end" fill="#1a1a1a">SURPS-AnxSen</text>
<text transform="translate(584.47,316.90) rotate(-57)" x="0" y="0" font-size="6.2" text-anchor="end" fill="#1a1a1a">Kirby-Total</text>
<text transform="translate(593.89,316.90) rotate(-57)" x="0" y="0" font-size="6.2" text-anchor="end" fill="#1a1a1a">AGN-LatencyNeg</text>
<text transform="translate(603.31,316.90) rotate(-57)" x="0" y="0" font-size="6.2" text-anchor="end" fill="#1a1a1a">CGT-DelAversion</text>
<text transform="translate(612.73,316.90) rotate(-57)" x="0" y="0" font-size="6.2" text-anchor="end" fill="#1a1a1a">CGT-Deliberation</text>
<text transform="translate(622.15,316.90) rotate(-57)" x="0" y="0" font-size="6.2" text-anchor="end" fill="#1a1a1a">CGT-QualDecision</text>
<text transform="translate(631.57,316.90) rotate(-57)" x="0" y="0" font-size="6.2" text-anchor="end" fill="#1a1a1a">CGT-RiskAdjust</text>
<text transform="translate(640.99,316.90) rotate(-57)" x="0" y="0" font-size="6.2" text-anchor="end" fill="#1a1a1a">CGT-RiskTaking</text>
<rect x="366.70" y="359.80" width="84.09" height="2.7" fill="#4f8a2b"/>
<text x="411.14" y="372.40" font-size="10" font-weight="bold" text-anchor="middle" fill="#5a933a" >Internal</text>
<rect x="451.59" y="359.80" width="36.88" height="2.7" fill="#3f78c0"/>
<text x="470.83" y="372.40" font-size="10" font-weight="bold" text-anchor="middle" fill="#4680c4" >External</text>
<rect x="489.27" y="359.80" width="83.99" height="2.7" fill="#b8952a"/>
<text x="534.66" y="372.40" font-size="10" font-weight="bold" text-anchor="middle" fill="#bc9a30" >Substance use</text>
<rect x="574.06" y="359.80" width="66.84" height="2.7" fill="#c85a1e"/>
<text x="610.08" y="372.40" font-size="10" font-weight="bold" text-anchor="middle" fill="#cc6628" >Cognition</text>
<text transform="translate(29.90,401.90) scale(0.95,1)" font-size="11.4" font-weight="bold" fill="#000">FNC state 3</text>
<rect x="30.40" y="406.30" width="9.50" height="18.30" fill="#c3e2ec"/>
<rect x="39.85" y="406.30" width="9.50" height="18.30" fill="#eef4f8"/>
<rect x="49.30" y="406.30" width="9.50" height="18.30" fill="#c3e1eb"/>
<rect x="58.74" y="406.30" width="9.50" height="18.30" fill="#eef3f8"/>
<rect x="68.19" y="406.30" width="9.50" height="18.30" fill="#c5e3ed"/>
<rect x="77.64" y="406.30" width="9.50" height="18.30" fill="#eeb393"/>
<rect x="87.09" y="406.30" width="9.50" height="18.30" fill="#f7f6f5"/>
<rect x="96.54" y="406.30" width="9.50" height="18.30" fill="#f5e0d0"/>
<rect x="105.99" y="406.30" width="9.50" height="18.30" fill="#f7ebe1"/>
<rect x="115.43" y="406.30" width="9.50" height="18.30" fill="#e9f2f7"/>
<rect x="124.88" y="406.30" width="9.50" height="18.30" fill="#efb596"/>
<rect x="134.33" y="406.30" width="9.50" height="18.30" fill="#a9d5e5"/>
<rect x="143.78" y="406.30" width="9.50" height="18.30" fill="#f8f6f4"/>
<rect x="153.23" y="406.30" width="9.50" height="18.30" fill="#a7d4e4"/>
<rect x="162.68" y="406.30" width="9.50" height="18.30" fill="#f5e3d4"/>
<rect x="172.12" y="406.30" width="9.50" height="18.30" fill="#eda888"/>
<rect x="181.57" y="406.30" width="9.50" height="18.30" fill="#eca687"/>
<rect x="191.02" y="406.30" width="9.50" height="18.30" fill="#f2c6ab"/>
<rect x="200.47" y="406.30" width="9.50" height="18.30" fill="#f8f5f3"/>
<rect x="209.92" y="406.30" width="9.50" height="18.30" fill="#dd7260"/>
<rect x="219.37" y="406.30" width="9.50" height="18.30" fill="#e3f0f7"/>
<rect x="228.81" y="406.30" width="9.50" height="18.30" fill="#f8f5f3"/>
<rect x="238.26" y="406.30" width="9.50" height="18.30" fill="#f5dfcf"/>
<rect x="247.71" y="406.30" width="9.50" height="18.30" fill="#f5decc"/>
<rect x="257.16" y="406.30" width="9.50" height="18.30" fill="#afd7e6"/>
<rect x="266.61" y="406.30" width="9.50" height="18.30" fill="#e3f1f7"/>
<rect x="276.06" y="406.30" width="9.50" height="18.30" fill="#f7e9de"/>
<rect x="285.50" y="406.30" width="9.50" height="18.30" fill="#f2c7ac"/>
<rect x="294.95" y="406.30" width="9.50" height="18.30" fill="#eaf1f7"/>
<rect x="30.40" y="424.55" width="9.50" height="18.30" fill="#f8f6f4"/>
<rect x="39.85" y="424.55" width="9.50" height="18.30" fill="#8cc4db"/>
<rect x="49.30" y="424.55" width="9.50" height="18.30" fill="#eff4f8"/>
<rect x="58.74" y="424.55" width="9.50" height="18.30" fill="#88c2da"/>
<rect x="68.19" y="424.55" width="9.50" height="18.30" fill="#f8f6f4"/>
<rect x="77.64" y="424.55" width="9.50" height="18.30" fill="#f8f5f3"/>
<rect x="87.09" y="424.55" width="9.50" height="18.30" fill="#e9f3f7"/>
<rect x="96.54" y="424.55" width="9.50" height="18.30" fill="#c6e3ed"/>
<rect x="105.99" y="424.55" width="9.50" height="18.30" fill="#f8f6f4"/>
<rect x="115.43" y="424.55" width="9.50" height="18.30" fill="#e8f2f7"/>
<rect x="124.88" y="424.55" width="9.50" height="18.30" fill="#f8f6f4"/>
<rect x="134.33" y="424.55" width="9.50" height="18.30" fill="#f8f6f4"/>
<rect x="143.78" y="424.55" width="9.50" height="18.30" fill="#f1c1a4"/>
<rect x="153.23" y="424.55" width="9.50" height="18.30" fill="#f7ebe2"/>
<rect x="162.68" y="424.55" width="9.50" height="18.30" fill="#eeb395"/>
<rect x="172.12" y="424.55" width="9.50" height="18.30" fill="#eca98a"/>
<rect x="181.57" y="424.55" width="9.50" height="18.30" fill="#eda98a"/>
<rect x="191.02" y="424.55" width="9.50" height="18.30" fill="#d8664f"/>
<rect x="200.47" y="424.55" width="9.50" height="18.30" fill="#e8967a"/>
<rect x="209.92" y="424.55" width="9.50" height="18.30" fill="#f8efe9"/>
<rect x="219.37" y="424.55" width="9.50" height="18.30" fill="#f8f6f4"/>
<rect x="228.81" y="424.55" width="9.50" height="18.30" fill="#edf3f7"/>
<rect x="238.26" y="424.55" width="9.50" height="18.30" fill="#f4d5c2"/>
<rect x="247.71" y="424.55" width="9.50" height="18.30" fill="#a9d4e4"/>
<rect x="257.16" y="424.55" width="9.50" height="18.30" fill="#f8f6f4"/>
<rect x="266.61" y="424.55" width="9.50" height="18.30" fill="#f8f6f4"/>
<rect x="276.06" y="424.55" width="9.50" height="18.30" fill="#e3f0f7"/>
<rect x="285.50" y="424.55" width="9.50" height="18.30" fill="#f7ede4"/>
<rect x="294.95" y="424.55" width="9.50" height="18.30" fill="#f8f3ef"/>
<rect x="30.40" y="442.80" width="9.50" height="18.30" fill="#f8f6f4"/>
<rect x="39.85" y="442.80" width="9.50" height="18.30" fill="#f8f6f4"/>
<rect x="49.30" y="442.80" width="9.50" height="18.30" fill="#f8f6f4"/>
<rect x="58.74" y="442.80" width="9.50" height="18.30" fill="#f8f6f4"/>
<rect x="68.19" y="442.80" width="9.50" height="18.30" fill="#f8f6f4"/>
<rect x="77.64" y="442.80" width="9.50" height="18.30" fill="#f8f6f4"/>
<rect x="87.09" y="442.80" width="9.50" height="18.30" fill="#f8f6f4"/>
<rect x="96.54" y="442.80" width="9.50" height="18.30" fill="#f8f6f4"/>
<rect x="105.99" y="442.80" width="9.50" height="18.30" fill="#f8f6f4"/>
<rect x="115.43" y="442.80" width="9.50" height="18.30" fill="#f8f6f4"/>
<rect x="124.88" y="442.80" width="9.50" height="18.30" fill="#f8f6f4"/>
<rect x="134.33" y="442.80" width="9.50" height="18.30" fill="#f8f6f4"/>
<rect x="143.78" y="442.80" width="9.50" height="18.30" fill="#f8f6f4"/>
<rect x="153.23" y="442.80" width="9.50" height="18.30" fill="#f8f6f4"/>
<rect x="162.68" y="442.80" width="9.50" height="18.30" fill="#f8f6f4"/>
<rect x="172.12" y="442.80" width="9.50" height="18.30" fill="#f8f6f4"/>
<rect x="181.57" y="442.80" width="9.50" height="18.30" fill="#f8f6f4"/>
<rect x="191.02" y="442.80" width="9.50" height="18.30" fill="#f8f6f4"/>
<rect x="200.47" y="442.80" width="9.50" height="18.30" fill="#f8f6f4"/>
<rect x="209.92" y="442.80" width="9.50" height="18.30" fill="#f8f6f4"/>
<rect x="219.37" y="442.80" width="9.50" height="18.30" fill="#f8f6f4"/>
<rect x="228.81" y="442.80" width="9.50" height="18.30" fill="#f8f6f4"/>
<rect x="238.26" y="442.80" width="9.50" height="18.30" fill="#f8f6f4"/>
<rect x="247.71" y="442.80" width="9.50" height="18.30" fill="#f8f6f4"/>
<rect x="257.16" y="442.80" width="9.50" height="18.30" fill="#f8f6f4"/>
<rect x="266.61" y="442.80" width="9.50" height="18.30" fill="#f8f6f4"/>
<rect x="276.06" y="442.80" width="9.50" height="18.30" fill="#f8f6f4"/>
<rect x="285.50" y="442.80" width="9.50" height="18.30" fill="#f8f6f4"/>
<rect x="294.95" y="442.80" width="9.50" height="18.30" fill="#f8f6f4"/>
<rect x="30.40" y="461.05" width="9.50" height="18.30" fill="#f8f6f4"/>
<rect x="39.85" y="461.05" width="9.50" height="18.30" fill="#f8f6f4"/>
<rect x="49.30" y="461.05" width="9.50" height="18.30" fill="#f8f6f4"/>
<rect x="58.74" y="461.05" width="9.50" height="18.30" fill="#f8f6f4"/>
<rect x="68.19" y="461.05" width="9.50" height="18.30" fill="#f6e6d9"/>
<rect x="77.64" y="461.05" width="9.50" height="18.30" fill="#f8f6f4"/>
<rect x="87.09" y="461.05" width="9.50" height="18.30" fill="#f7ede5"/>
<rect x="96.54" y="461.05" width="9.50" height="18.30" fill="#f8f0ea"/>
<rect x="105.99" y="461.05" width="9.50" height="18.30" fill="#eda98a"/>
<rect x="115.43" y="461.05" width="9.50" height="18.30" fill="#f8f6f4"/>
<rect x="124.88" y="461.05" width="9.50" height="18.30" fill="#f8f6f4"/>
<rect x="134.33" y="461.05" width="9.50" height="18.30" fill="#f8f6f4"/>
<rect x="143.78" y="461.05" width="9.50" height="18.30" fill="#f8f6f4"/>
<rect x="153.23" y="461.05" width="9.50" height="18.30" fill="#b81f2e"/>
<rect x="162.68" y="461.05" width="9.50" height="18.30" fill="#f1bfa3"/>
<rect x="172.12" y="461.05" width="9.50" height="18.30" fill="#f4e0d0"/>
<rect x="181.57" y="461.05" width="9.50" height="18.30" fill="#eba083"/>
<rect x="191.02" y="461.05" width="9.50" height="18.30" fill="#eeb193"/>
<rect x="200.47" y="461.05" width="9.50" height="18.30" fill="#f2c9b0"/>
<rect x="209.92" y="461.05" width="9.50" height="18.30" fill="#e17e63"/>
<rect x="219.37" y="461.05" width="9.50" height="18.30" fill="#f7e7da"/>
<rect x="228.81" y="461.05" width="9.50" height="18.30" fill="#f1f4f8"/>
<rect x="238.26" y="461.05" width="9.50" height="18.30" fill="#f8f6f4"/>
<rect x="247.71" y="461.05" width="9.50" height="18.30" fill="#acd6e5"/>
<rect x="257.16" y="461.05" width="9.50" height="18.30" fill="#f8f6f4"/>
<rect x="266.61" y="461.05" width="9.50" height="18.30" fill="#f8f6f4"/>
<rect x="276.06" y="461.05" width="9.50" height="18.30" fill="#f8f6f4"/>
<rect x="285.50" y="461.05" width="9.50" height="18.30" fill="#f8f6f4"/>
<rect x="294.95" y="461.05" width="9.50" height="18.30" fill="#f8f6f4"/>
<line x1="39.85" y1="406.3" x2="39.85" y2="479.3" stroke="#7a7a7a" stroke-width="0.8"/>
<line x1="49.30" y1="406.3" x2="49.30" y2="479.3" stroke="#7a7a7a" stroke-width="0.8"/>
<line x1="58.74" y1="406.3" x2="58.74" y2="479.3" stroke="#7a7a7a" stroke-width="0.8"/>
<line x1="68.19" y1="406.3" x2="68.19" y2="479.3" stroke="#7a7a7a" stroke-width="0.8"/>
<line x1="77.64" y1="406.3" x2="77.64" y2="479.3" stroke="#7a7a7a" stroke-width="0.8"/>
<line x1="87.09" y1="406.3" x2="87.09" y2="479.3" stroke="#7a7a7a" stroke-width="0.8"/>
<line x1="96.54" y1="406.3" x2="96.54" y2="479.3" stroke="#7a7a7a" stroke-width="0.8"/>
<line x1="105.99" y1="406.3" x2="105.99" y2="479.3" stroke="#7a7a7a" stroke-width="0.8"/>
<line x1="115.43" y1="406.3" x2="115.43" y2="479.3" stroke="#7a7a7a" stroke-width="0.8"/>
<line x1="124.88" y1="406.3" x2="124.88" y2="479.3" stroke="#7a7a7a" stroke-width="0.8"/>
<line x1="134.33" y1="406.3" x2="134.33" y2="479.3" stroke="#7a7a7a" stroke-width="0.8"/>
<line x1="143.78" y1="406.3" x2="143.78" y2="479.3" stroke="#7a7a7a" stroke-width="0.8"/>
<line x1="153.23" y1="406.3" x2="153.23" y2="479.3" stroke="#7a7a7a" stroke-width="0.8"/>
<line x1="162.68" y1="406.3" x2="162.68" y2="479.3" stroke="#7a7a7a" stroke-width="0.8"/>
<line x1="172.12" y1="406.3" x2="172.12" y2="479.3" stroke="#7a7a7a" stroke-width="0.8"/>
<line x1="181.57" y1="406.3" x2="181.57" y2="479.3" stroke="#7a7a7a" stroke-width="0.8"/>
<line x1="191.02" y1="406.3" x2="191.02" y2="479.3" stroke="#7a7a7a" stroke-width="0.8"/>
<line x1="200.47" y1="406.3" x2="200.47" y2="479.3" stroke="#7a7a7a" stroke-width="0.8"/>
<line x1="209.92" y1="406.3" x2="209.92" y2="479.3" stroke="#7a7a7a" stroke-width="0.8"/>
<line x1="219.37" y1="406.3" x2="219.37" y2="479.3" stroke="#7a7a7a" stroke-width="0.8"/>
<line x1="228.81" y1="406.3" x2="228.81" y2="479.3" stroke="#7a7a7a" stroke-width="0.8"/>
<line x1="238.26" y1="406.3" x2="238.26" y2="479.3" stroke="#7a7a7a" stroke-width="0.8"/>
<line x1="247.71" y1="406.3" x2="247.71" y2="479.3" stroke="#7a7a7a" stroke-width="0.8"/>
<line x1="257.16" y1="406.3" x2="257.16" y2="479.3" stroke="#7a7a7a" stroke-width="0.8"/>
<line x1="266.61" y1="406.3" x2="266.61" y2="479.3" stroke="#7a7a7a" stroke-width="0.8"/>
<line x1="276.06" y1="406.3" x2="276.06" y2="479.3" stroke="#7a7a7a" stroke-width="0.8"/>
<line x1="285.50" y1="406.3" x2="285.50" y2="479.3" stroke="#7a7a7a" stroke-width="0.8"/>
<line x1="294.95" y1="406.3" x2="294.95" y2="479.3" stroke="#7a7a7a" stroke-width="0.8"/>
<line x1="30.4" y1="424.55" x2="304.4" y2="424.55" stroke="#7a7a7a" stroke-width="0.8"/>
<line x1="30.4" y1="442.80" x2="304.4" y2="442.80" stroke="#7a7a7a" stroke-width="0.8"/>
<line x1="30.4" y1="461.05" x2="304.4" y2="461.05" stroke="#7a7a7a" stroke-width="0.8"/>
<rect x="30.4" y="406.3" width="274.0" height="73.0" fill="none" stroke="#7a7a7a" stroke-width="0.9"/>
<text transform="translate(26.10,418.03) scale(0.95,1)" font-size="10.2" font-weight="bold" text-anchor="end" fill="#000">REST</text>
<text transform="translate(26.10,436.28) scale(0.95,1)" font-size="10.2" font-weight="bold" text-anchor="end" fill="#000">EFT</text>
<text transform="translate(26.10,454.53) scale(0.95,1)" font-size="10.2" font-weight="bold" text-anchor="end" fill="#000">MID</text>
<text transform="translate(26.10,472.78) scale(0.95,1)" font-size="10.2" font-weight="bold" text-anchor="end" fill="#000">SST</text>
<defs><linearGradient id="g3" x1="0" y1="0" x2="0" y2="1"><stop offset="0.00" stop-color="#67001f"/><stop offset="0.10" stop-color="#b2182b"/><stop offset="0.20" stop-color="#d6604d"/><stop offset="0.30" stop-color="#f4a582"/><stop offset="0.40" stop-color="#fddbc7"/><stop offset="0.50" stop-color="#f7f7f7"/><stop offset="0.60" stop-color="#d1e5f0"/><stop offset="0.70" stop-color="#92c5de"/><stop offset="0.80" stop-color="#4393c3"/><stop offset="0.90" stop-color="#2166ac"/><stop offset="1.00" stop-color="#053061"/></linearGradient></defs>
<rect x="309.40" y="406.3" width="9.8" height="73.0" fill="url(#g3)" stroke="#999" stroke-width="0.5"/>
<line x1="319.20" y1="419.99" x2="320.30" y2="419.99" stroke="#777" stroke-width="0.5"/>
<text x="321.60" y="421.99" font-size="5.7" font-weight="normal" text-anchor="start" fill="#444" >0.5</text>
<line x1="319.20" y1="442.80" x2="320.30" y2="442.80" stroke="#777" stroke-width="0.5"/>
<text x="321.60" y="444.80" font-size="5.7" font-weight="normal" text-anchor="start" fill="#444" >0</text>
<line x1="319.20" y1="465.61" x2="320.30" y2="465.61" stroke="#777" stroke-width="0.5"/>
<text x="321.60" y="467.61" font-size="5.7" font-weight="normal" text-anchor="start" fill="#444" >-0.5</text>
<text transform="translate(41.12,485.40) rotate(-57)" x="0" y="0" font-size="6.2" text-anchor="end" fill="#1a1a1a">DAWBA-SgePho</text>
<text transform="translate(50.57,485.40) rotate(-57)" x="0" y="0" font-size="6.2" text-anchor="end" fill="#1a1a1a">DAWBA-SocPho</text>
<text transform="translate(60.02,485.40) rotate(-57)" x="0" y="0" font-size="6.2" text-anchor="end" fill="#1a1a1a">DAWBA-AgoPho</text>
<text transform="translate(69.47,485.40) rotate(-57)" x="0" y="0" font-size="6.2" text-anchor="end" fill="#1a1a1a">DAWBA-GenAnx</text>
<text transform="translate(78.92,485.40) rotate(-57)" x="0" y="0" font-size="6.2" text-anchor="end" fill="#1a1a1a">DAWBA-Dep</text>
<text transform="translate(88.37,485.40) rotate(-57)" x="0" y="0" font-size="6.2" text-anchor="end" fill="#1a1a1a">DAWBA-ED</text>
<text transform="translate(97.81,485.40) rotate(-57)" x="0" y="0" font-size="6.2" text-anchor="end" fill="#1a1a1a">SDQ-Emotion</text>
<text transform="translate(107.26,485.40) rotate(-57)" x="0" y="0" font-size="6.2" text-anchor="end" fill="#1a1a1a">SDQ-Peer</text>
<text transform="translate(116.71,485.40) rotate(-57)" x="0" y="0" font-size="6.2" text-anchor="end" fill="#1a1a1a">ADRS-Dep</text>
<text transform="translate(126.16,485.40) rotate(-57)" x="0" y="0" font-size="6.2" text-anchor="end" fill="#1a1a1a">DAWBA-OCD</text>
<text transform="translate(135.61,485.40) rotate(-57)" x="0" y="0" font-size="6.2" text-anchor="end" fill="#1a1a1a">DAWBA-ADHD</text>
<text transform="translate(145.06,485.40) rotate(-57)" x="0" y="0" font-size="6.2" text-anchor="end" fill="#1a1a1a">SDQ-Conduct</text>
<text transform="translate(154.50,485.40) rotate(-57)" x="0" y="0" font-size="6.2" text-anchor="end" fill="#1a1a1a">SDQ-Hyper</text>
<text transform="translate(163.95,485.40) rotate(-57)" x="0" y="0" font-size="6.2" text-anchor="end" fill="#1a1a1a">ESPAD-SmokFre</text>
<text transform="translate(173.40,485.40) rotate(-57)" x="0" y="0" font-size="6.2" text-anchor="end" fill="#1a1a1a">ESPAD-DrinkOcc</text>
<text transform="translate(182.85,485.40) rotate(-57)" x="0" y="0" font-size="6.2" text-anchor="end" fill="#1a1a1a">ESPAD-DrinkFive</text>
<text transform="translate(192.30,485.40) rotate(-57)" x="0" y="0" font-size="6.2" text-anchor="end" fill="#1a1a1a">ESPAD-Drunk</text>
<text transform="translate(201.74,485.40) rotate(-57)" x="0" y="0" font-size="6.2" text-anchor="end" fill="#1a1a1a">AUDIT-Total</text>
<text transform="translate(211.19,485.40) rotate(-57)" x="0" y="0" font-size="6.2" text-anchor="end" fill="#1a1a1a">SURPS-Impul</text>
<text transform="translate(220.64,485.40) rotate(-57)" x="0" y="0" font-size="6.2" text-anchor="end" fill="#1a1a1a">SURPS-SenSeek</text>
<text transform="translate(230.09,485.40) rotate(-57)" x="0" y="0" font-size="6.2" text-anchor="end" fill="#1a1a1a">SURPS-Hopeless</text>
<text transform="translate(239.54,485.40) rotate(-57)" x="0" y="0" font-size="6.2" text-anchor="end" fill="#1a1a1a">SURPS-AnxSen</text>
<text transform="translate(248.99,485.40) rotate(-57)" x="0" y="0" font-size="6.2" text-anchor="end" fill="#1a1a1a">Kirby-Total</text>
<text transform="translate(258.43,485.40) rotate(-57)" x="0" y="0" font-size="6.2" text-anchor="end" fill="#1a1a1a">AGN-LatencyNeg</text>
<text transform="translate(267.88,485.40) rotate(-57)" x="0" y="0" font-size="6.2" text-anchor="end" fill="#1a1a1a">CGT-DelAversion</text>
<text transform="translate(277.33,485.40) rotate(-57)" x="0" y="0" font-size="6.2" text-anchor="end" fill="#1a1a1a">CGT-Deliberation</text>
<text transform="translate(286.78,485.40) rotate(-57)" x="0" y="0" font-size="6.2" text-anchor="end" fill="#1a1a1a">CGT-QualDecision</text>
<text transform="translate(296.23,485.40) rotate(-57)" x="0" y="0" font-size="6.2" text-anchor="end" fill="#1a1a1a">CGT-RiskAdjust</text>
<text transform="translate(305.68,485.40) rotate(-57)" x="0" y="0" font-size="6.2" text-anchor="end" fill="#1a1a1a">CGT-RiskTaking</text>
<rect x="30.60" y="528.30" width="84.33" height="2.7" fill="#4f8a2b"/>
<text x="75.17" y="540.90" font-size="10" font-weight="bold" text-anchor="middle" fill="#5a933a" >Internal</text>
<rect x="115.73" y="528.30" width="36.99" height="2.7" fill="#3f78c0"/>
<text x="135.03" y="540.90" font-size="10" font-weight="bold" text-anchor="middle" fill="#4680c4" >External</text>
<rect x="153.53" y="528.30" width="84.23" height="2.7" fill="#b8952a"/>
<text x="199.04" y="540.90" font-size="10" font-weight="bold" text-anchor="middle" fill="#bc9a30" >Substance use</text>
<rect x="238.56" y="528.30" width="67.04" height="2.7" fill="#c85a1e"/>
<text x="274.68" y="540.90" font-size="10" font-weight="bold" text-anchor="middle" fill="#cc6628" >Cognition</text>
<text transform="translate(366.00,401.80) scale(0.95,1)" font-size="11.4" font-weight="bold" fill="#000">FNC state 4</text>
<rect x="366.50" y="406.20" width="9.47" height="18.35" fill="#f8f6f4"/>
<rect x="375.92" y="406.20" width="9.47" height="18.35" fill="#f8f6f4"/>
<rect x="385.34" y="406.20" width="9.47" height="18.35" fill="#f8f6f4"/>
<rect x="394.76" y="406.20" width="9.47" height="18.35" fill="#f8f6f4"/>
<rect x="404.18" y="406.20" width="9.47" height="18.35" fill="#f8f6f4"/>
<rect x="413.60" y="406.20" width="9.47" height="18.35" fill="#f8f6f4"/>
<rect x="423.02" y="406.20" width="9.47" height="18.35" fill="#f8f6f4"/>
<rect x="432.44" y="406.20" width="9.47" height="18.35" fill="#f8f6f4"/>
<rect x="441.87" y="406.20" width="9.47" height="18.35" fill="#f8f6f4"/>
<rect x="451.29" y="406.20" width="9.47" height="18.35" fill="#f8f6f4"/>
<rect x="460.71" y="406.20" width="9.47" height="18.35" fill="#f8f6f4"/>
<rect x="470.13" y="406.20" width="9.47" height="18.35" fill="#f8f6f4"/>
<rect x="479.55" y="406.20" width="9.47" height="18.35" fill="#f8f6f4"/>
<rect x="488.97" y="406.20" width="9.47" height="18.35" fill="#f8f6f4"/>
<rect x="498.39" y="406.20" width="9.47" height="18.35" fill="#f8f6f4"/>
<rect x="507.81" y="406.20" width="9.47" height="18.35" fill="#f8f6f4"/>
<rect x="517.23" y="406.20" width="9.47" height="18.35" fill="#f8f6f4"/>
<rect x="526.65" y="406.20" width="9.47" height="18.35" fill="#f8f6f4"/>
<rect x="536.07" y="406.20" width="9.47" height="18.35" fill="#f8f6f4"/>
<rect x="545.49" y="406.20" width="9.47" height="18.35" fill="#f8f6f4"/>
<rect x="554.91" y="406.20" width="9.47" height="18.35" fill="#f8f6f4"/>
<rect x="564.33" y="406.20" width="9.47" height="18.35" fill="#f8f6f4"/>
<rect x="573.76" y="406.20" width="9.47" height="18.35" fill="#f8f6f4"/>
<rect x="583.18" y="406.20" width="9.47" height="18.35" fill="#f8f6f4"/>
<rect x="592.60" y="406.20" width="9.47" height="18.35" fill="#f8f6f4"/>
<rect x="602.02" y="406.20" width="9.47" height="18.35" fill="#f8f6f4"/>
<rect x="611.44" y="406.20" width="9.47" height="18.35" fill="#f8f6f4"/>
<rect x="620.86" y="406.20" width="9.47" height="18.35" fill="#f8f6f4"/>
<rect x="630.28" y="406.20" width="9.47" height="18.35" fill="#f8f6f4"/>
<rect x="366.50" y="424.50" width="9.47" height="18.35" fill="#f8f6f4"/>
<rect x="375.92" y="424.50" width="9.47" height="18.35" fill="#4f93c5"/>
<rect x="385.34" y="424.50" width="9.47" height="18.35" fill="#f8f6f4"/>
<rect x="394.76" y="424.50" width="9.47" height="18.35" fill="#f8f6f4"/>
<rect x="404.18" y="424.50" width="9.47" height="18.35" fill="#65a8cf"/>
<rect x="413.60" y="424.50" width="9.47" height="18.35" fill="#f8f6f4"/>
<rect x="423.02" y="424.50" width="9.47" height="18.35" fill="#f8f6f4"/>
<rect x="432.44" y="424.50" width="9.47" height="18.35" fill="#f8f6f4"/>
<rect x="441.87" y="424.50" width="9.47" height="18.35" fill="#9acbdf"/>
<rect x="451.29" y="424.50" width="9.47" height="18.35" fill="#f0f4f8"/>
<rect x="460.71" y="424.50" width="9.47" height="18.35" fill="#d9ecf3"/>
<rect x="470.13" y="424.50" width="9.47" height="18.35" fill="#f8f6f4"/>
<rect x="479.55" y="424.50" width="9.47" height="18.35" fill="#93c8de"/>
<rect x="488.97" y="424.50" width="9.47" height="18.35" fill="#f8f1ec"/>
<rect x="498.39" y="424.50" width="9.47" height="18.35" fill="#f8f6f4"/>
<rect x="507.81" y="424.50" width="9.47" height="18.35" fill="#edf3f7"/>
<rect x="517.23" y="424.50" width="9.47" height="18.35" fill="#5a9ecb"/>
<rect x="526.65" y="424.50" width="9.47" height="18.35" fill="#c5e2ec"/>
<rect x="536.07" y="424.50" width="9.47" height="18.35" fill="#f8f6f4"/>
<rect x="545.49" y="424.50" width="9.47" height="18.35" fill="#f8f6f4"/>
<rect x="554.91" y="424.50" width="9.47" height="18.35" fill="#f8f6f4"/>
<rect x="564.33" y="424.50" width="9.47" height="18.35" fill="#eef4f8"/>
<rect x="573.76" y="424.50" width="9.47" height="18.35" fill="#f8f6f4"/>
<rect x="583.18" y="424.50" width="9.47" height="18.35" fill="#f7ebe0"/>
<rect x="592.60" y="424.50" width="9.47" height="18.35" fill="#e9a283"/>
<rect x="602.02" y="424.50" width="9.47" height="18.35" fill="#f8f6f4"/>
<rect x="611.44" y="424.50" width="9.47" height="18.35" fill="#d4e9f1"/>
<rect x="620.86" y="424.50" width="9.47" height="18.35" fill="#f8f6f4"/>
<rect x="630.28" y="424.50" width="9.47" height="18.35" fill="#f8f0e8"/>
<rect x="366.50" y="442.80" width="9.47" height="18.35" fill="#e4f1f7"/>
<rect x="375.92" y="442.80" width="9.47" height="18.35" fill="#b2d9e7"/>
<rect x="385.34" y="442.80" width="9.47" height="18.35" fill="#cbe4ed"/>
<rect x="394.76" y="442.80" width="9.47" height="18.35" fill="#eff4f8"/>
<rect x="404.18" y="442.80" width="9.47" height="18.35" fill="#d2e8f0"/>
<rect x="413.60" y="442.80" width="9.47" height="18.35" fill="#ebf3f7"/>
<rect x="423.02" y="442.80" width="9.47" height="18.35" fill="#b0d8e6"/>
<rect x="432.44" y="442.80" width="9.47" height="18.35" fill="#d8ebf2"/>
<rect x="441.87" y="442.80" width="9.47" height="18.35" fill="#cbe4ed"/>
<rect x="451.29" y="442.80" width="9.47" height="18.35" fill="#a3d0e2"/>
<rect x="460.71" y="442.80" width="9.47" height="18.35" fill="#f8f5f2"/>
<rect x="470.13" y="442.80" width="9.47" height="18.35" fill="#f7ebe0"/>
<rect x="479.55" y="442.80" width="9.47" height="18.35" fill="#d4e9f1"/>
<rect x="488.97" y="442.80" width="9.47" height="18.35" fill="#eba586"/>
<rect x="498.39" y="442.80" width="9.47" height="18.35" fill="#bcdeea"/>
<rect x="507.81" y="442.80" width="9.47" height="18.35" fill="#d3e8f0"/>
<rect x="517.23" y="442.80" width="9.47" height="18.35" fill="#9dcde0"/>
<rect x="526.65" y="442.80" width="9.47" height="18.35" fill="#bedfea"/>
<rect x="536.07" y="442.80" width="9.47" height="18.35" fill="#f6e2d2"/>
<rect x="545.49" y="442.80" width="9.47" height="18.35" fill="#f7ece2"/>
<rect x="554.91" y="442.80" width="9.47" height="18.35" fill="#eef3f7"/>
<rect x="564.33" y="442.80" width="9.47" height="18.35" fill="#c9e3ec"/>
<rect x="573.76" y="442.80" width="9.47" height="18.35" fill="#e8f0f7"/>
<rect x="583.18" y="442.80" width="9.47" height="18.35" fill="#f8f3ef"/>
<rect x="592.60" y="442.80" width="9.47" height="18.35" fill="#e6937a"/>
<rect x="602.02" y="442.80" width="9.47" height="18.35" fill="#f5dac8"/>
<rect x="611.44" y="442.80" width="9.47" height="18.35" fill="#c8e3ec"/>
<rect x="620.86" y="442.80" width="9.47" height="18.35" fill="#d9ebf2"/>
<rect x="630.28" y="442.80" width="9.47" height="18.35" fill="#edac8c"/>
<rect x="366.50" y="461.10" width="9.47" height="18.35" fill="#f8f2ee"/>
<rect x="375.92" y="461.10" width="9.47" height="18.35" fill="#cfe6ef"/>
<rect x="385.34" y="461.10" width="9.47" height="18.35" fill="#acd6e5"/>
<rect x="394.76" y="461.10" width="9.47" height="18.35" fill="#bcdeea"/>
<rect x="404.18" y="461.10" width="9.47" height="18.35" fill="#d5e9f1"/>
<rect x="413.60" y="461.10" width="9.47" height="18.35" fill="#c4e2ec"/>
<rect x="423.02" y="461.10" width="9.47" height="18.35" fill="#5a9fcb"/>
<rect x="432.44" y="461.10" width="9.47" height="18.35" fill="#f8efe9"/>
<rect x="441.87" y="461.10" width="9.47" height="18.35" fill="#c3e1ec"/>
<rect x="451.29" y="461.10" width="9.47" height="18.35" fill="#c3e1eb"/>
<rect x="460.71" y="461.10" width="9.47" height="18.35" fill="#f8f1ec"/>
<rect x="470.13" y="461.10" width="9.47" height="18.35" fill="#f0c0a5"/>
<rect x="479.55" y="461.10" width="9.47" height="18.35" fill="#f0f4f8"/>
<rect x="488.97" y="461.10" width="9.47" height="18.35" fill="#f5dac7"/>
<rect x="498.39" y="461.10" width="9.47" height="18.35" fill="#f8f5f2"/>
<rect x="507.81" y="461.10" width="9.47" height="18.35" fill="#f8f6f4"/>
<rect x="517.23" y="461.10" width="9.47" height="18.35" fill="#e3f0f7"/>
<rect x="526.65" y="461.10" width="9.47" height="18.35" fill="#d6eaf2"/>
<rect x="536.07" y="461.10" width="9.47" height="18.35" fill="#f5e2d1"/>
<rect x="545.49" y="461.10" width="9.47" height="18.35" fill="#eba688"/>
<rect x="554.91" y="461.10" width="9.47" height="18.35" fill="#e0f0f6"/>
<rect x="564.33" y="461.10" width="9.47" height="18.35" fill="#86c1d9"/>
<rect x="573.76" y="461.10" width="9.47" height="18.35" fill="#cde6ef"/>
<rect x="583.18" y="461.10" width="9.47" height="18.35" fill="#f8f3ef"/>
<rect x="592.60" y="461.10" width="9.47" height="18.35" fill="#f0bd9f"/>
<rect x="602.02" y="461.10" width="9.47" height="18.35" fill="#f3d1bb"/>
<rect x="611.44" y="461.10" width="9.47" height="18.35" fill="#d6eaf2"/>
<rect x="620.86" y="461.10" width="9.47" height="18.35" fill="#f8f6f4"/>
<rect x="630.28" y="461.10" width="9.47" height="18.35" fill="#edac8c"/>
<line x1="375.92" y1="406.2" x2="375.92" y2="479.4" stroke="#7a7a7a" stroke-width="0.8"/>
<line x1="385.34" y1="406.2" x2="385.34" y2="479.4" stroke="#7a7a7a" stroke-width="0.8"/>
<line x1="394.76" y1="406.2" x2="394.76" y2="479.4" stroke="#7a7a7a" stroke-width="0.8"/>
<line x1="404.18" y1="406.2" x2="404.18" y2="479.4" stroke="#7a7a7a" stroke-width="0.8"/>
<line x1="413.60" y1="406.2" x2="413.60" y2="479.4" stroke="#7a7a7a" stroke-width="0.8"/>
<line x1="423.02" y1="406.2" x2="423.02" y2="479.4" stroke="#7a7a7a" stroke-width="0.8"/>
<line x1="432.44" y1="406.2" x2="432.44" y2="479.4" stroke="#7a7a7a" stroke-width="0.8"/>
<line x1="441.87" y1="406.2" x2="441.87" y2="479.4" stroke="#7a7a7a" stroke-width="0.8"/>
<line x1="451.29" y1="406.2" x2="451.29" y2="479.4" stroke="#7a7a7a" stroke-width="0.8"/>
<line x1="460.71" y1="406.2" x2="460.71" y2="479.4" stroke="#7a7a7a" stroke-width="0.8"/>
<line x1="470.13" y1="406.2" x2="470.13" y2="479.4" stroke="#7a7a7a" stroke-width="0.8"/>
<line x1="479.55" y1="406.2" x2="479.55" y2="479.4" stroke="#7a7a7a" stroke-width="0.8"/>
<line x1="488.97" y1="406.2" x2="488.97" y2="479.4" stroke="#7a7a7a" stroke-width="0.8"/>
<line x1="498.39" y1="406.2" x2="498.39" y2="479.4" stroke="#7a7a7a" stroke-width="0.8"/>
<line x1="507.81" y1="406.2" x2="507.81" y2="479.4" stroke="#7a7a7a" stroke-width="0.8"/>
<line x1="517.23" y1="406.2" x2="517.23" y2="479.4" stroke="#7a7a7a" stroke-width="0.8"/>
<line x1="526.65" y1="406.2" x2="526.65" y2="479.4" stroke="#7a7a7a" stroke-width="0.8"/>
<line x1="536.07" y1="406.2" x2="536.07" y2="479.4" stroke="#7a7a7a" stroke-width="0.8"/>
<line x1="545.49" y1="406.2" x2="545.49" y2="479.4" stroke="#7a7a7a" stroke-width="0.8"/>
<line x1="554.91" y1="406.2" x2="554.91" y2="479.4" stroke="#7a7a7a" stroke-width="0.8"/>
<line x1="564.33" y1="406.2" x2="564.33" y2="479.4" stroke="#7a7a7a" stroke-width="0.8"/>
<line x1="573.76" y1="406.2" x2="573.76" y2="479.4" stroke="#7a7a7a" stroke-width="0.8"/>
<line x1="583.18" y1="406.2" x2="583.18" y2="479.4" stroke="#7a7a7a" stroke-width="0.8"/>
<line x1="592.60" y1="406.2" x2="592.60" y2="479.4" stroke="#7a7a7a" stroke-width="0.8"/>
<line x1="602.02" y1="406.2" x2="602.02" y2="479.4" stroke="#7a7a7a" stroke-width="0.8"/>
<line x1="611.44" y1="406.2" x2="611.44" y2="479.4" stroke="#7a7a7a" stroke-width="0.8"/>
<line x1="620.86" y1="406.2" x2="620.86" y2="479.4" stroke="#7a7a7a" stroke-width="0.8"/>
<line x1="630.28" y1="406.2" x2="630.28" y2="479.4" stroke="#7a7a7a" stroke-width="0.8"/>
<line x1="366.5" y1="424.50" x2="639.7" y2="424.50" stroke="#7a7a7a" stroke-width="0.8"/>
<line x1="366.5" y1="442.80" x2="639.7" y2="442.80" stroke="#7a7a7a" stroke-width="0.8"/>
<line x1="366.5" y1="461.10" x2="639.7" y2="461.10" stroke="#7a7a7a" stroke-width="0.8"/>
<rect x="366.5" y="406.2" width="273.2" height="73.2" fill="none" stroke="#7a7a7a" stroke-width="0.9"/>
<text transform="translate(362.20,417.95) scale(0.95,1)" font-size="10.2" font-weight="bold" text-anchor="end" fill="#000">REST</text>
<text transform="translate(362.20,436.25) scale(0.95,1)" font-size="10.2" font-weight="bold" text-anchor="end" fill="#000">EFT</text>
<text transform="translate(362.20,454.55) scale(0.95,1)" font-size="10.2" font-weight="bold" text-anchor="end" fill="#000">MID</text>
<text transform="translate(362.20,472.85) scale(0.95,1)" font-size="10.2" font-weight="bold" text-anchor="end" fill="#000">SST</text>
<defs><linearGradient id="g4" x1="0" y1="0" x2="0" y2="1"><stop offset="0.00" stop-color="#67001f"/><stop offset="0.10" stop-color="#b2182b"/><stop offset="0.20" stop-color="#d6604d"/><stop offset="0.30" stop-color="#f4a582"/><stop offset="0.40" stop-color="#fddbc7"/><stop offset="0.50" stop-color="#f7f7f7"/><stop offset="0.60" stop-color="#d1e5f0"/><stop offset="0.70" stop-color="#92c5de"/><stop offset="0.80" stop-color="#4393c3"/><stop offset="0.90" stop-color="#2166ac"/><stop offset="1.00" stop-color="#053061"/></linearGradient></defs>
<rect x="644.70" y="406.2" width="9.8" height="73.2" fill="url(#g4)" stroke="#999" stroke-width="0.5"/>
<line x1="654.50" y1="419.93" x2="655.60" y2="419.93" stroke="#777" stroke-width="0.5"/>
<text x="656.90" y="421.93" font-size="5.7" font-weight="normal" text-anchor="start" fill="#444" >0.5</text>
<line x1="654.50" y1="442.80" x2="655.60" y2="442.80" stroke="#777" stroke-width="0.5"/>
<text x="656.90" y="444.80" font-size="5.7" font-weight="normal" text-anchor="start" fill="#444" >0</text>
<line x1="654.50" y1="465.68" x2="655.60" y2="465.68" stroke="#777" stroke-width="0.5"/>
<text x="656.90" y="467.68" font-size="5.7" font-weight="normal" text-anchor="start" fill="#444" >-0.5</text>
<text transform="translate(377.21,485.50) rotate(-57)" x="0" y="0" font-size="6.2" text-anchor="end" fill="#1a1a1a">DAWBA-SgePho</text>
<text transform="translate(386.63,485.50) rotate(-57)" x="0" y="0" font-size="6.2" text-anchor="end" fill="#1a1a1a">DAWBA-SocPho</text>
<text transform="translate(396.05,485.50) rotate(-57)" x="0" y="0" font-size="6.2" text-anchor="end" fill="#1a1a1a">DAWBA-AgoPho</text>
<text transform="translate(405.47,485.50) rotate(-57)" x="0" y="0" font-size="6.2" text-anchor="end" fill="#1a1a1a">DAWBA-GenAnx</text>
<text transform="translate(414.89,485.50) rotate(-57)" x="0" y="0" font-size="6.2" text-anchor="end" fill="#1a1a1a">DAWBA-Dep</text>
<text transform="translate(424.31,485.50) rotate(-57)" x="0" y="0" font-size="6.2" text-anchor="end" fill="#1a1a1a">DAWBA-ED</text>
<text transform="translate(433.73,485.50) rotate(-57)" x="0" y="0" font-size="6.2" text-anchor="end" fill="#1a1a1a">SDQ-Emotion</text>
<text transform="translate(443.16,485.50) rotate(-57)" x="0" y="0" font-size="6.2" text-anchor="end" fill="#1a1a1a">SDQ-Peer</text>
<text transform="translate(452.58,485.50) rotate(-57)" x="0" y="0" font-size="6.2" text-anchor="end" fill="#1a1a1a">ADRS-Dep</text>
<text transform="translate(462.00,485.50) rotate(-57)" x="0" y="0" font-size="6.2" text-anchor="end" fill="#1a1a1a">DAWBA-OCD</text>
<text transform="translate(471.42,485.50) rotate(-57)" x="0" y="0" font-size="6.2" text-anchor="end" fill="#1a1a1a">DAWBA-ADHD</text>
<text transform="translate(480.84,485.50) rotate(-57)" x="0" y="0" font-size="6.2" text-anchor="end" fill="#1a1a1a">SDQ-Conduct</text>
<text transform="translate(490.26,485.50) rotate(-57)" x="0" y="0" font-size="6.2" text-anchor="end" fill="#1a1a1a">SDQ-Hyper</text>
<text transform="translate(499.68,485.50) rotate(-57)" x="0" y="0" font-size="6.2" text-anchor="end" fill="#1a1a1a">ESPAD-SmokFre</text>
<text transform="translate(509.10,485.50) rotate(-57)" x="0" y="0" font-size="6.2" text-anchor="end" fill="#1a1a1a">ESPAD-DrinkOcc</text>
<text transform="translate(518.52,485.50) rotate(-57)" x="0" y="0" font-size="6.2" text-anchor="end" fill="#1a1a1a">ESPAD-DrinkFive</text>
<text transform="translate(527.94,485.50) rotate(-57)" x="0" y="0" font-size="6.2" text-anchor="end" fill="#1a1a1a">ESPAD-Drunk</text>
<text transform="translate(537.36,485.50) rotate(-57)" x="0" y="0" font-size="6.2" text-anchor="end" fill="#1a1a1a">AUDIT-Total</text>
<text transform="translate(546.78,485.50) rotate(-57)" x="0" y="0" font-size="6.2" text-anchor="end" fill="#1a1a1a">SURPS-Impul</text>
<text transform="translate(556.20,485.50) rotate(-57)" x="0" y="0" font-size="6.2" text-anchor="end" fill="#1a1a1a">SURPS-SenSeek</text>
<text transform="translate(565.62,485.50) rotate(-57)" x="0" y="0" font-size="6.2" text-anchor="end" fill="#1a1a1a">SURPS-Hopeless</text>
<text transform="translate(575.04,485.50) rotate(-57)" x="0" y="0" font-size="6.2" text-anchor="end" fill="#1a1a1a">SURPS-AnxSen</text>
<text transform="translate(584.47,485.50) rotate(-57)" x="0" y="0" font-size="6.2" text-anchor="end" fill="#1a1a1a">Kirby-Total</text>
<text transform="translate(593.89,485.50) rotate(-57)" x="0" y="0" font-size="6.2" text-anchor="end" fill="#1a1a1a">AGN-LatencyNeg</text>
<text transform="translate(603.31,485.50) rotate(-57)" x="0" y="0" font-size="6.2" text-anchor="end" fill="#1a1a1a">CGT-DelAversion</text>
<text transform="translate(612.73,485.50) rotate(-57)" x="0" y="0" font-size="6.2" text-anchor="end" fill="#1a1a1a">CGT-Deliberation</text>
<text transform="translate(622.15,485.50) rotate(-57)" x="0" y="0" font-size="6.2" text-anchor="end" fill="#1a1a1a">CGT-QualDecision</text>
<text transform="translate(631.57,485.50) rotate(-57)" x="0" y="0" font-size="6.2" text-anchor="end" fill="#1a1a1a">CGT-RiskAdjust</text>
<text transform="translate(640.99,485.50) rotate(-57)" x="0" y="0" font-size="6.2" text-anchor="end" fill="#1a1a1a">CGT-RiskTaking</text>
<rect x="366.70" y="528.40" width="84.09" height="2.7" fill="#4f8a2b"/>
<text x="411.14" y="541.00" font-size="10" font-weight="bold" text-anchor="middle" fill="#5a933a" >Internal</text>
<rect x="451.59" y="528.40" width="36.88" height="2.7" fill="#3f78c0"/>
<text x="470.83" y="541.00" font-size="10" font-weight="bold" text-anchor="middle" fill="#4680c4" >External</text>
<rect x="489.27" y="528.40" width="83.99" height="2.7" fill="#b8952a"/>
<text x="534.66" y="541.00" font-size="10" font-weight="bold" text-anchor="middle" fill="#bc9a30" >Substance use</text>
<rect x="574.06" y="528.40" width="66.84" height="2.7" fill="#c85a1e"/>
<text x="610.08" y="541.00" font-size="10" font-weight="bold" text-anchor="middle" fill="#cc6628" >Cognition</text></svg>
</body></html>
